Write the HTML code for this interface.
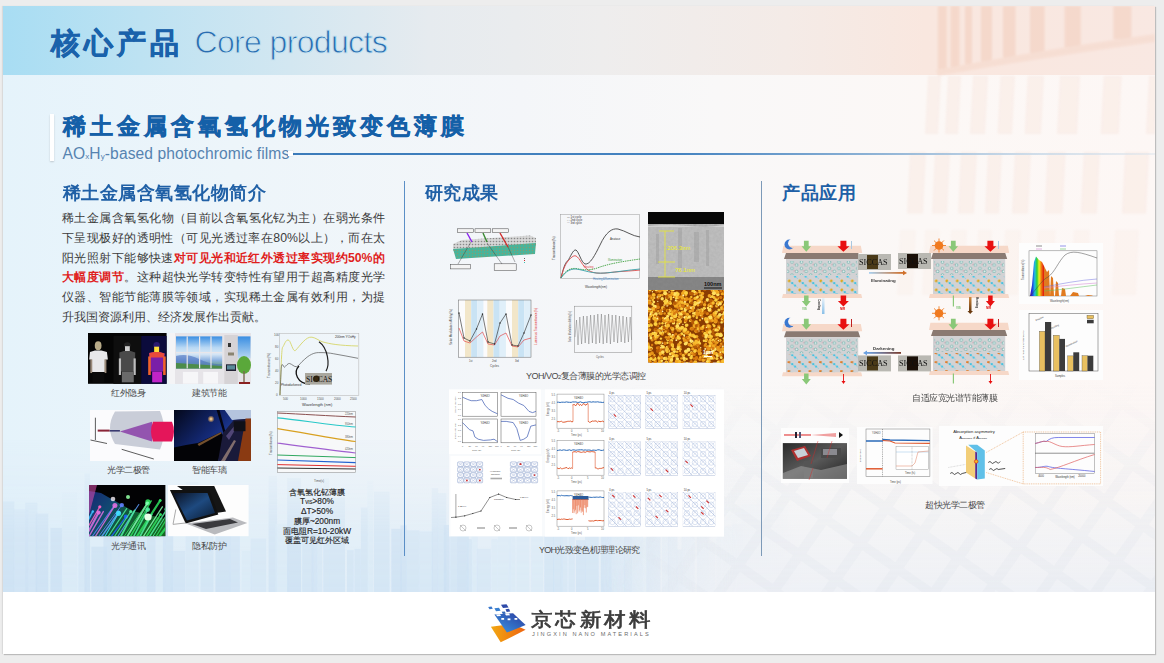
<!DOCTYPE html>
<html><head><meta charset="utf-8">
<style>
*{margin:0;padding:0;box-sizing:border-box}
html,body{width:1164px;height:663px;overflow:hidden;background:#ededed;font-family:"Liberation Sans",sans-serif}
.a{position:absolute}
#slide{left:3px;top:6px;width:1152px;height:648px;overflow:hidden;box-shadow:1px 1px 1px rgba(0,0,0,.2),-1px 0 1px rgba(0,0,0,.08)}
#hdr{left:0;top:0;width:1152px;height:69px;background:linear-gradient(90deg,#a8ddf3 0%,#bde2f2 12%,#d3e7f1 25%,#e6ebef 37%,#eeeded 52%,#f4ebe7 68%,#f9e7df 80%,#f9e8e2 100%)}
#content{left:0;top:69px;width:1152px;height:517px;background:linear-gradient(90deg,#e5f3fb 0%,#edf5fa 20%,#f4f6f9 45%,#f9f8f8 62%,#fcf8f6 80%,#fdf7f5 100%)}
#footer{left:0;top:586px;width:1152px;height:62px;background:#fff}
.t1{left:50.5px;top:23.7px;font-size:29px;font-weight:900;color:#1a62ab;-webkit-text-stroke:0.6px #1a62ab;letter-spacing:4px;white-space:nowrap}
.t1en{left:194.5px;top:24px;font-size:32px;color:#2a6cb0;white-space:nowrap;letter-spacing:-0.65px;-webkit-text-stroke:0.9px #c8e3f0}
.t2{left:63px;top:111px;font-size:23px;font-weight:900;color:#1560a8;-webkit-text-stroke:0.5px #1560a8;letter-spacing:4px;white-space:nowrap}
.t2en{left:62.5px;top:145px;font-size:15.6px;color:#5683b0;white-space:nowrap;letter-spacing:0.1px;-webkit-text-stroke:0}
.bar{left:50px;top:114px;width:4px;height:47px;background:#fff;box-shadow:0 1px 2px rgba(0,0,0,.18)}
.sq{left:288px;top:151px;width:5px;height:5px;background:#fff;box-shadow:0 0 1px rgba(0,0,0,.2)}
.line{left:292px;top:153px;width:863px;height:2px;background:linear-gradient(90deg,#3b7bba 0%,#4583c0 45%,#90b4d6 68%,#cddbe8 85%,rgba(220,228,236,.5) 100%)}
.h3{font-size:18px;font-weight:bold;color:#2060a6;white-space:nowrap}
.sep{width:1px;background:#5b8fc6}
.p{left:62px;top:209px;width:323px;font-size:12.3px;line-height:19.8px;color:#3c3c3c}
.p div{text-align:justify;text-align-last:justify;white-space:nowrap}
.red{color:#e01f1e;font-weight:bold}
.cap{font-size:8.5px;color:#4a4a4a;white-space:nowrap;letter-spacing:-0.5px}
.img{overflow:hidden}
</style></head><body>
<div id="slide" class="a">
  <div id="hdr" class="a"></div>
  <div id="content" class="a"></div>
  <div id="bgdeco"><svg class="a" style="left:0;top:0" width="1152" height="648" viewBox="3 6 1152 648">
<defs><filter id="bblur" x="-5%" y="-5%" width="110%" height="110%"><feGaussianBlur stdDeviation="1.3"/></filter></defs>
<g opacity=".36" filter="url(#bblur)">
<rect x="937.8" y="6" width="9" height="63.4" fill="#eebfa8"/>
<rect x="950.5" y="6" width="9" height="61.2" fill="#eebfa8"/>
<rect x="965" y="6" width="7" height="58.7" fill="#eebfa8"/>
<rect x="981" y="6" width="11" height="55.9" fill="#eebfa8"/>
<rect x="1003" y="6" width="12.6" height="52.1" fill="#eebfa8"/>
<rect x="1030" y="6" width="14.6" height="47.5" fill="#eebfa8"/>
<rect x="1064.5" y="6" width="16.3" height="41.6" fill="#eebfa8"/>
<rect x="1113.3" y="6" width="18.1" height="33.2" fill="#eebfa8"/>
<path d="M936 70 Q1040 50 1155 34 L1155 42 Q1040 58 938 76Z" fill="#f3cfbd"/>
</g>
<g opacity=".12" filter="url(#bblur)">
<path d="M928 76 L941 76 L938 134 L925 134Z" fill="#eab69c"/>
<path d="M948 76 L961 76 L958 134 L945 134Z" fill="#eab69c"/>
<path d="M973 76 L988 76 L985 134 L970 134Z" fill="#eab69c"/>
<path d="M1000.5 76 L1015.0 76 L1012.0 134 L997.5 134Z" fill="#eab69c"/>
<path d="M1027.7 76 L1044.0 76 L1041.0 134 L1024.7 134Z" fill="#eab69c"/>
<path d="M1060 76 L1080 76 L1077 134 L1057 134Z" fill="#eab69c"/>
<path d="M1103.7 76 L1121.7 76 L1118.7 134 L1100.7 134Z" fill="#eab69c"/>
<path d="M1149 76 L1158 76 L1155 134 L1146 134Z" fill="#eab69c"/>
<path d="M910 152 L926 152 L923 213.5 L907 213.5Z" fill="#eab69c"/>
<path d="M935 152 L950 152 L947 213.5 L932 213.5Z" fill="#eab69c"/>
<path d="M961 152 L977 152 L974 213.5 L958 213.5Z" fill="#eab69c"/>
<path d="M988 152 L1002 152 L999 213.5 L985 213.5Z" fill="#eab69c"/>
<path d="M1015 152 L1031 152 L1028 213.5 L1012 213.5Z" fill="#eab69c"/>
<path d="M1047.6 152 L1065.6 152 L1062.6 213.5 L1044.6 213.5Z" fill="#eab69c"/>
<path d="M1083.8 152 L1099.8 152 L1096.8 213.5 L1080.8 213.5Z" fill="#eab69c"/>
<path d="M1125 152 L1149 152 L1146 213.5 L1122 213.5Z" fill="#eab69c"/>
<path d="M900 230 L916 230 L913 295 L897 295Z" fill="#eab69c" opacity=".5"/>
<path d="M925 230 L940 230 L937 295 L922 295Z" fill="#eab69c" opacity=".5"/>
<path d="M951 230 L967 230 L964 295 L948 295Z" fill="#eab69c" opacity=".5"/>
<path d="M978 230 L992 230 L989 295 L975 295Z" fill="#eab69c" opacity=".5"/>
<path d="M1005 230 L1021 230 L1018 295 L1002 295Z" fill="#eab69c" opacity=".5"/>
<path d="M1037.6 230 L1055.6 230 L1052.6 295 L1034.6 295Z" fill="#eab69c" opacity=".5"/>
<path d="M1073.8 230 L1089.8 230 L1086.8 295 L1070.8 295Z" fill="#eab69c" opacity=".5"/>
<path d="M1115 230 L1139 230 L1136 295 L1112 295Z" fill="#eab69c" opacity=".5"/>
</g>
<defs><linearGradient id="skyfade" x1="0" y1="0" x2="0" y2="1"><stop offset="0" stop-color="#fff" stop-opacity="0"/><stop offset=".35" stop-color="#fff" stop-opacity=".25"/><stop offset=".7" stop-color="#fff" stop-opacity=".85"/><stop offset="1" stop-color="#fff" stop-opacity="1"/></linearGradient>
<linearGradient id="skyfadeX" x1="0" y1="0" x2="1" y2="0"><stop offset="0" stop-color="#fff" stop-opacity="1"/><stop offset=".75" stop-color="#fff" stop-opacity="1"/><stop offset="1" stop-color="#fff" stop-opacity="0"/></linearGradient>
<mask id="skymask"><rect x="3" y="400" width="800" height="192" fill="url(#skyfade)"/></mask>
<mask id="skymask2"><rect x="3" y="400" width="800" height="192" fill="url(#skyfadeX)"/></mask></defs>
<g mask="url(#skymask2)"><g mask="url(#skymask)">
<rect x="3" y="440" width="800" height="152" fill="#d6e7f6" opacity=".55"/>
<rect x="3.0" y="501.4" width="11.3" height="90.6" fill="#c9def2" opacity=".7"/>
<rect x="13.6" y="509.4" width="14.7" height="82.6" fill="#cde1f3" opacity=".7"/>
<rect x="25.2" y="502.6" width="12.2" height="89.4" fill="#cde1f3" opacity=".7"/>
<rect x="35.7" y="513.5" width="12.6" height="78.5" fill="#c9def2" opacity=".7"/>
<rect x="50.4" y="527.9" width="12.0" height="64.1" fill="#c9def2" opacity=".7"/>
<rect x="61.9" y="492.6" width="14.9" height="99.4" fill="#d8e9f7" opacity=".7"/>
<rect x="78.4" y="526.4" width="8.1" height="65.6" fill="#d3e5f5" opacity=".7"/>
<rect x="84.5" y="473.6" width="5.6" height="118.4" fill="#c9def2" opacity=".7"/>
<rect x="91.3" y="546.7" width="15.9" height="45.3" fill="#c9def2" opacity=".7"/>
<rect x="103.4" y="532.6" width="8.5" height="59.4" fill="#c9def2" opacity=".7"/>
<rect x="110.7" y="499.3" width="8.9" height="92.7" fill="#cde1f3" opacity=".7"/>
<rect x="118.7" y="543.2" width="7.0" height="48.8" fill="#cfe2f4" opacity=".7"/>
<rect x="124.9" y="497.4" width="11.9" height="94.6" fill="#cfe2f4" opacity=".7"/>
<rect x="133.6" y="487.3" width="6.0" height="104.7" fill="#cfe2f4" opacity=".7"/>
<rect x="138.0" y="535.8" width="8.0" height="56.2" fill="#d3e5f5" opacity=".7"/>
<rect x="146.4" y="504.2" width="9.3" height="87.8" fill="#c9def2" opacity=".7"/>
<rect x="155.6" y="483.1" width="10.0" height="108.9" fill="#d8e9f7" opacity=".7"/>
<rect x="162.9" y="521.7" width="10.3" height="70.3" fill="#c9def2" opacity=".7"/>
<rect x="170.7" y="550.8" width="14.6" height="41.2" fill="#cde1f3" opacity=".7"/>
<rect x="185.6" y="482.2" width="13.0" height="109.8" fill="#d3e5f5" opacity=".7"/>
<rect x="200.5" y="513.3" width="13.0" height="78.7" fill="#cfe2f4" opacity=".7"/>
<rect x="215.4" y="529.5" width="15.2" height="62.5" fill="#c9def2" opacity=".7"/>
<rect x="229.3" y="531.2" width="10.6" height="60.8" fill="#cde1f3" opacity=".7"/>
<rect x="241.8" y="550.4" width="10.3" height="41.6" fill="#d8e9f7" opacity=".7"/>
<rect x="250.6" y="538.6" width="15.5" height="53.4" fill="#d3e5f5" opacity=".7"/>
<rect x="268.6" y="475.8" width="8.5" height="116.2" fill="#cde1f3" opacity=".7"/>
<rect x="275.3" y="523.7" width="13.0" height="68.3" fill="#d8e9f7" opacity=".7"/>
<rect x="287.2" y="478.0" width="13.9" height="114.0" fill="#c9def2" opacity=".7"/>
<rect x="302.1" y="511.1" width="11.5" height="80.9" fill="#cfe2f4" opacity=".7"/>
<rect x="311.4" y="530.4" width="6.0" height="61.6" fill="#cde1f3" opacity=".7"/>
<rect x="315.9" y="483.0" width="6.3" height="109.0" fill="#d3e5f5" opacity=".7"/>
<rect x="323.3" y="477.9" width="5.8" height="114.1" fill="#cfe2f4" opacity=".7"/>
<rect x="329.0" y="497.6" width="16.0" height="94.4" fill="#cfe2f4" opacity=".7"/>
<rect x="347.0" y="550.1" width="6.7" height="41.9" fill="#cfe2f4" opacity=".7"/>
<rect x="354.4" y="548.8" width="6.5" height="43.2" fill="#cfe2f4" opacity=".7"/>
<rect x="360.9" y="507.5" width="7.3" height="84.5" fill="#cfe2f4" opacity=".7"/>
<rect x="367.3" y="480.6" width="6.0" height="111.4" fill="#d8e9f7" opacity=".7"/>
<rect x="374.0" y="491.6" width="15.6" height="100.4" fill="#cfe2f4" opacity=".7"/>
<rect x="391.3" y="528.8" width="10.5" height="63.2" fill="#c9def2" opacity=".7"/>
<rect x="400.3" y="525.4" width="6.4" height="66.6" fill="#c9def2" opacity=".7"/>
<rect x="406.1" y="530.3" width="13.3" height="61.7" fill="#cfe2f4" opacity=".7"/>
<rect x="418.8" y="531.3" width="14.2" height="60.7" fill="#d3e5f5" opacity=".7"/>
<rect x="431.7" y="488.0" width="6.4" height="104.0" fill="#cde1f3" opacity=".7"/>
<rect x="437.7" y="493.0" width="8.6" height="99.0" fill="#cfe2f4" opacity=".7"/>
<rect x="443.8" y="525.0" width="5.9" height="67.0" fill="#c9def2" opacity=".7"/>
<rect x="450.1" y="502.9" width="7.6" height="89.1" fill="#cfe2f4" opacity=".7"/>
<rect x="457.3" y="506.2" width="11.6" height="85.8" fill="#c9def2" opacity=".7"/>
<rect x="466.7" y="539.2" width="5.5" height="52.8" fill="#cfe2f4" opacity=".7"/>
<rect x="471.5" y="474.3" width="6.3" height="117.7" fill="#d8e9f7" opacity=".7"/>
<rect x="476.9" y="548.7" width="13.9" height="43.3" fill="#d3e5f5" opacity=".7"/>
<rect x="491.3" y="539.2" width="6.4" height="52.8" fill="#d8e9f7" opacity=".7"/>
<rect x="497.8" y="484.3" width="13.3" height="107.7" fill="#d8e9f7" opacity=".7"/>
<rect x="508.4" y="481.3" width="7.2" height="110.7" fill="#d8e9f7" opacity=".7"/>
<rect x="516.5" y="529.5" width="12.8" height="62.5" fill="#d8e9f7" opacity=".7"/>
<rect x="531.2" y="533.2" width="11.9" height="58.8" fill="#d8e9f7" opacity=".7"/>
<rect x="544.3" y="520.0" width="9.9" height="72.0" fill="#cfe2f4" opacity=".7"/>
<rect x="553.1" y="529.6" width="9.8" height="62.4" fill="#cfe2f4" opacity=".7"/>
<rect x="560.5" y="525.6" width="7.1" height="66.4" fill="#d3e5f5" opacity=".7"/>
<rect x="568.4" y="533.1" width="6.4" height="58.9" fill="#d3e5f5" opacity=".7"/>
<rect x="575.9" y="540.2" width="9.6" height="51.8" fill="#cde1f3" opacity=".7"/>
<rect x="585.0" y="520.2" width="13.7" height="71.8" fill="#cfe2f4" opacity=".7"/>
<rect x="600.8" y="521.4" width="10.8" height="70.6" fill="#cde1f3" opacity=".7"/>
<rect x="608.9" y="516.7" width="15.6" height="75.3" fill="#d3e5f5" opacity=".7"/>
<rect x="623.8" y="508.8" width="8.4" height="83.2" fill="#cde1f3" opacity=".7"/>
<rect x="631.5" y="478.4" width="11.6" height="113.6" fill="#d3e5f5" opacity=".7"/>
<rect x="642.0" y="538.5" width="5.2" height="53.5" fill="#d8e9f7" opacity=".7"/>
<rect x="646.4" y="477.7" width="14.1" height="114.3" fill="#c9def2" opacity=".7"/>
<rect x="661.9" y="516.0" width="7.1" height="76.0" fill="#d3e5f5" opacity=".7"/>
<rect x="667.8" y="511.9" width="9.8" height="80.1" fill="#c9def2" opacity=".7"/>
<rect x="676.4" y="549.5" width="6.3" height="42.5" fill="#c9def2" opacity=".7"/>
<rect x="681.6" y="501.8" width="13.0" height="90.2" fill="#cde1f3" opacity=".7"/>
<rect x="697.0" y="486.2" width="11.5" height="105.8" fill="#c9def2" opacity=".7"/>
<rect x="707.0" y="542.8" width="8.2" height="49.2" fill="#cde1f3" opacity=".7"/>
<rect x="716.4" y="494.7" width="5.3" height="97.3" fill="#cfe2f4" opacity=".7"/>
<rect x="722.4" y="526.4" width="10.7" height="65.6" fill="#cfe2f4" opacity=".7"/>
<rect x="732.2" y="523.5" width="10.6" height="68.5" fill="#c9def2" opacity=".7"/>
<rect x="741.5" y="504.3" width="15.6" height="87.7" fill="#cde1f3" opacity=".7"/>
<rect x="756.7" y="498.4" width="13.1" height="93.6" fill="#c9def2" opacity=".7"/>
<rect x="768.8" y="526.0" width="8.3" height="66.0" fill="#cde1f3" opacity=".7"/>
<rect x="776.0" y="475.1" width="7.0" height="116.9" fill="#c9def2" opacity=".7"/>
<rect x="781.4" y="487.2" width="6.9" height="104.8" fill="#c9def2" opacity=".7"/>
<rect x="787.5" y="529.0" width="13.3" height="63.0" fill="#cde1f3" opacity=".7"/>
<rect x="796.7" y="476.3" width="6.7" height="115.7" fill="#d8e9f7" opacity=".7"/>
</g></g>
<defs><pattern id="diag" width="44" height="44" patternUnits="userSpaceOnUse" patternTransform="rotate(35)"><rect width="44" height="44" fill="none"/><rect x="0" y="0" width="10" height="44" fill="#dde2ea"/></pattern>
<pattern id="diag2" width="44" height="44" patternUnits="userSpaceOnUse" patternTransform="rotate(-55)"><rect x="0" y="0" width="9" height="44" fill="#dde2ea"/></pattern>
<linearGradient id="dfade" x1="0" y1="0" x2="0" y2="1"><stop offset="0" stop-color="#fff" stop-opacity="0"/><stop offset=".5" stop-color="#fff" stop-opacity=".7"/><stop offset="1" stop-color="#fff" stop-opacity="1"/></linearGradient>
<linearGradient id="dfadeX" x1="0" y1="0" x2="1" y2="0"><stop offset="0" stop-color="#fff" stop-opacity="0"/><stop offset=".25" stop-color="#fff" stop-opacity="1"/><stop offset="1" stop-color="#fff" stop-opacity="1"/></linearGradient>
<mask id="dmask"><rect x="600" y="380" width="555" height="212" fill="url(#dfade)"/></mask><mask id="dmaskX"><rect x="600" y="380" width="555" height="212" fill="url(#dfadeX)"/></mask></defs>
<defs><linearGradient id="btint" x1="0" y1="0" x2="0" y2="1"><stop offset="0" stop-color="#eef1f5" stop-opacity="0"/><stop offset=".55" stop-color="#eef1f5" stop-opacity=".35"/><stop offset="1" stop-color="#edf0f5" stop-opacity=".95"/></linearGradient></defs><g mask="url(#dmaskX)"><rect x="600" y="380" width="555" height="212" fill="url(#btint)"/></g><g mask="url(#dmaskX)"><g mask="url(#dmask)" opacity=".24"><rect x="600" y="380" width="555" height="212" fill="url(#diag)"/><rect x="600" y="380" width="555" height="212" fill="url(#diag2)"/></g></g>
</svg></div>
  <div id="footer" class="a"></div>
</div>

<div class="a t1">核心产品</div>
<div class="a t1en">Core products</div>
<div class="a bar"></div>
<div class="a t2">稀土金属含氧氢化物光致变色薄膜</div>
<div class="a t2en">AO<span style="font-size:8px;-webkit-text-stroke:0">x</span>H<span style="font-size:8px;-webkit-text-stroke:0">y</span>-based photochromic films</div>
<div class="a line"></div>
<div class="a sq"></div>

<div class="a h3" style="left:62.5px;top:180.5px;letter-spacing:0.5px">稀土金属含氧氢化物简介</div>
<div class="a sep" style="left:404px;top:181px;height:375px"></div>
<div class="a h3" style="left:424.5px;top:181px;letter-spacing:0.6px">研究成果</div>
<div class="a sep" style="left:761px;top:181px;height:375px;background:#7d9ab8"></div>
<div class="a h3" style="left:782px;top:181px;letter-spacing:0.6px">产品应用</div>

<div class="a p">
  <div>稀土金属含氧氢化物（目前以含氧氢化钇为主）在弱光条件</div>
  <div>下呈现极好的透明性（可见光透过率在80%以上），而在太</div>
  <div>阳光照射下能够快速<span class="red">对可见光和近红外透过率实现约50%的</span></div>
  <div><span class="red">大幅度调节</span>。这种超快光学转变特性有望用于超高精度光学</div>
  <div>仪器、智能节能薄膜等领域，实现稀土金属有效利用，为提</div>
  <div style="text-align-last:left">升我国资源利用、经济发展作出贡献。</div>
</div>

<!-- IR stealth -->
<svg class="a" style="left:88.2px;top:332.8px" width="78.6" height="50.8" viewBox="0 0 79 52" preserveAspectRatio="none">
<rect width="79" height="52" fill="#050505"/>
<rect x="25.5" y="3" width="28" height="49" fill="#0e0e0e"/>
<rect x="53.5" y="3" width="25.5" height="49" fill="#0b0b3c"/>
<!-- p1 -->
<ellipse cx="10.2" cy="13" rx="3.4" ry="4.6" fill="#b8ab88"/>
<path d="M2 19.5 L7 18 L13.5 18 L19 19.5 L20 27 L17.5 27.5 L17 40 L4 40 L3.5 27.5 L1.2 27 Z" fill="#e8e8ea"/>
<rect x="2.3" y="27" width="2" height="14" fill="#9a8a7a"/>
<rect x="16.5" y="27" width="2" height="14" fill="#9a8a7a"/>
<rect x="4.5" y="40" width="12" height="11" fill="#0a0a0a"/>
<!-- p2 -->
<ellipse cx="39.5" cy="12.5" rx="3.3" ry="3" fill="#222"/>
<rect x="37.2" y="13.5" width="4.8" height="6" fill="#cfcfcf"/>
<path d="M31.5 20 L36 18.5 L43 18.5 L47.5 20 L47 39.5 L32 39.5 Z" fill="#4a4a4a"/>
<rect x="31" y="26" width="2.2" height="17" fill="#bdbdbd"/>
<rect x="45.8" y="26" width="2.2" height="17" fill="#bdbdbd"/>
<rect x="34" y="39.5" width="12" height="11" fill="#6a6a6a"/>
<!-- p3 -->
<ellipse cx="69" cy="12.5" rx="3.2" ry="3.2" fill="#2a1a70"/>
<rect x="66.5" y="14" width="5" height="6.5" fill="#ffe03a"/>
<path d="M61.5 20.5 L66 19.5 L72 19.5 L77 21 L77 39.5 L62 39.5 Z" fill="#7a1fa8"/>
<path d="M61.5 20.5 L66 19.5 L72 19.5 L77 21 L76 25 L62 25 Z" fill="#e84a3a"/>
<rect x="60.5" y="24" width="2.6" height="19" fill="#f0622a"/>
<rect x="75.5" y="24" width="2.6" height="19" fill="#f0622a"/>
<rect x="64.5" y="39.5" width="10" height="11" fill="#c024c8"/>
</svg>
<!-- building -->
<svg class="a" style="left:169px;top:332.5px" width="82" height="51" viewBox="0 0 82 51">
<defs>
<linearGradient id="sky1" x1="0" y1="0" x2="0" y2="1"><stop offset="0" stop-color="#3a8ee2"/><stop offset=".35" stop-color="#b8d8f4"/><stop offset=".55" stop-color="#d8e8f6"/><stop offset=".75" stop-color="#8ab0e0"/><stop offset="1" stop-color="#5a9a60"/></linearGradient>
<linearGradient id="sky2" x1="0" y1="0" x2="0" y2="1"><stop offset="0" stop-color="#3a8ee2"/><stop offset="1" stop-color="#b8d8f2"/></linearGradient>
</defs>
<rect width="82" height="51" fill="#e6e4e8"/>
<path d="M0 0 L6 0 L6 51 L0 51Z" fill="#f4f4f6"/>
<rect x="7" y="3.4" width="46.2" height="32" fill="url(#sky1)"/>
<path d="M7 23 Q18 20 30 26 T53 31 L53 35.4 L7 35.4Z" fill="#4a70c0" opacity=".6"/>
<path d="M7 30 L53 33 L53 35.4 L7 35.4Z" fill="#4c8c4a"/>
<g fill="#e8e6ea"><rect x="17.6" y="3.4" width="1.2" height="32"/><rect x="30" y="3.4" width="1.2" height="32"/><rect x="41.4" y="3.4" width="1.2" height="32"/><rect x="7" y="19" width="46.2" height="1.2"/></g>
<rect x="55.3" y="2" width="13.5" height="49" fill="#d6d3d6"/>
<rect x="59" y="10" width="3" height="4" fill="#333"/>
<rect x="59" y="19.5" width="6" height="3" fill="#8a8470"/>
<rect x="57" y="31.3" width="10" height="6.7" fill="#223"/>
<rect x="58" y="32.3" width="8" height="4.2" fill="#5a8a9a"/>
<rect x="68.8" y="3.4" width="12.7" height="22" fill="url(#sky2)"/>
<ellipse cx="75" cy="32" rx="7" ry="9" fill="#5aa83a"/>
<rect x="74.3" y="38" width="1.4" height="11" fill="#7a6a50"/>
<rect x="70" y="49" width="11" height="2" fill="#8a2020"/>
<rect x="13.9" y="38.9" width="15.2" height="11.8" fill="#f6f6f8"/>
<rect x="34.2" y="38.9" width="14.8" height="11.8" fill="#f6f6f8"/>
</svg>
<!-- optical diode -->
<svg class="a" style="left:89.6px;top:410px" width="84" height="51" viewBox="0 0 84 51">
<rect width="84" height="51" fill="#fbfbfd"/>
<path d="M25 1.5 L70 1 Q78 20 70 39.5 L25 34 Q15 18 25 1.5Z" fill="#c9cdd8"/>
<path d="M29.9 21.5 L62 11.7 L62 31.6 Z" fill="#8a3ea8" opacity=".85"/>
<path d="M63 11.7 L82 11.7 Q86 21.5 82 31.6 L63 31.6 Q59 21.5 63 11.7Z" fill="#e4165a"/>
<rect x="7.7" y="19.6" width="12" height="2" fill="#8a2538"/>
<rect x="19.7" y="20" width="10.2" height="1.6" fill="#3a3a70"/>
<g stroke="#333" stroke-width=".8" fill="none"><path d="M5.4 7.7 L5.4 30"/><path d="M0.5 30 L17 33.5"/><path d="M31.7 39.3 L63.8 49"/></g>
</svg>
<!-- smart car window -->
<svg class="a" style="left:173.6px;top:410px" width="77.4" height="51" viewBox="0 0 77.4 51">
<defs>
<linearGradient id="cs" x1="0" y1="0" x2="1" y2=".6"><stop offset="0" stop-color="#04081a"/><stop offset=".55" stop-color="#142a78"/><stop offset="1" stop-color="#2d55c0"/></linearGradient>
<radialGradient id="lamp"><stop offset="0" stop-color="#fff4c8"/><stop offset=".35" stop-color="#f2b868" stop-opacity=".85"/><stop offset="1" stop-color="#f0b060" stop-opacity="0"/></radialGradient>
</defs>
<rect width="77.4" height="51" fill="url(#cs)"/>
<path d="M50.7 0 L77.4 0 L77.4 8.6 L58 10 Z" fill="#b4c4de"/>
<path d="M71.5 8.6 L77.4 8.6 L77.4 51 L62 51 Z" fill="#8a3a12"/>
<path d="M0 37.5 L12 35 L24 33 L47 22 L52 30 L44 51 L0 51Z" fill="#030306"/>
<path d="M23.5 34 L47 22 L47.5 23.5 L25 36Z" fill="#d09050" opacity=".55"/>
<path d="M42.6 0 L45.5 0 L51.5 22 L49.5 23Z" fill="#050510"/>
<path d="M49 23 L59.7 10 L71.5 9 L64 51 L44 51Z" fill="#1a1a3a"/>
<path d="M52 26 L62 14 L64 15 L55 30Z" fill="#6a5a90" opacity=".7"/>
<path d="M47 51 L60 30 L62 31 L51 51Z" fill="#e8c0a0" opacity=".5"/>
<circle cx="37" cy="9" r="3.6" fill="url(#lamp)"/>
<rect x="59.7" y="11.3" width="11.8" height="9.9" fill="#101018"/>
</svg>
<!-- fiber optics -->
<svg class="a" style="left:89.2px;top:485.4px" width="76.4" height="51.2" viewBox="0 0 76.4 51.2">
<defs><linearGradient id="fb" x1="0" y1="0" x2="1" y2="0.5"><stop offset="0" stop-color="#2a48e0"/><stop offset=".35" stop-color="#2090e0"/><stop offset=".6" stop-color="#20b070"/><stop offset="1" stop-color="#28c840"/></linearGradient>
<clipPath id="fclip"><rect width="76.4" height="51.2"/></clipPath></defs>
<rect width="76.4" height="51.2" fill="#020204"/>
<g clip-path="url(#fclip)">
<path d="M0 6 L12 8 L26 16 L44 26 L60 30 L76.4 34 L76.4 51.2 L0 51.2Z" fill="url(#fb)" opacity=".5"/>
<path d="M-10.0 52.0 L3.8 26.5" stroke="#40c0ff" stroke-width="1.6" stroke-linecap="round" opacity=".85"/>
<circle cx="3.8" cy="26.5" r="1.2" fill="#40c0ff" opacity=".9"/>
<path d="M-6.8 52.0 L10.8 21.8" stroke="#ff60c0" stroke-width="1.3" stroke-linecap="round" opacity=".85"/>
<circle cx="10.8" cy="21.8" r="1.6" fill="#ff60c0" opacity=".9"/>
<path d="M-3.6 52.0 L9.6 27.6" stroke="#e070e0" stroke-width="2.1" stroke-linecap="round" opacity=".85"/>
<circle cx="9.6" cy="27.6" r="2.1" fill="#e070e0" opacity=".9"/>
<path d="M-0.4 52.0 L14.3 26.6" stroke="#e070e0" stroke-width="1.4" stroke-linecap="round" opacity=".85"/>
<path d="M2.8 52.0 L25.0 21.0" stroke="#6080ff" stroke-width="1.1" stroke-linecap="round" opacity=".85"/>
<path d="M6.0 52.0 L25.9 20.5" stroke="#e070e0" stroke-width="1.3" stroke-linecap="round" opacity=".85"/>
<circle cx="25.9" cy="20.5" r="2.5" fill="#e070e0" opacity=".9"/>
<path d="M9.2 52.0 L32.8 20.1" stroke="#6080ff" stroke-width="1.0" stroke-linecap="round" opacity=".85"/>
<circle cx="32.8" cy="20.1" r="2.2" fill="#6080ff" opacity=".9"/>
<path d="M12.4 52.0 L29.6 27.3" stroke="#60a0ff" stroke-width="1.5" stroke-linecap="round" opacity=".85"/>
<circle cx="29.6" cy="27.3" r="1.8" fill="#60a0ff" opacity=".9"/>
<path d="M15.6 52.0 L29.5 28.3" stroke="#40e0ff" stroke-width="1.1" stroke-linecap="round" opacity=".85"/>
<circle cx="29.5" cy="28.3" r="2.6" fill="#40e0ff" opacity=".9"/>
<path d="M18.8 52.0 L37.7 23.6" stroke="#50f0a0" stroke-width="1.2" stroke-linecap="round" opacity=".85"/>
<path d="M22.0 52.0 L37.0 31.6" stroke="#2060ff" stroke-width="1.3" stroke-linecap="round" opacity=".85"/>
<circle cx="37.0" cy="31.6" r="2.2" fill="#2060ff" opacity=".9"/>
<path d="M25.2 52.0 L41.7 26.5" stroke="#50f0a0" stroke-width="1.1" stroke-linecap="round" opacity=".85"/>
<circle cx="41.7" cy="26.5" r="1.5" fill="#50f0a0" opacity=".9"/>
<path d="M28.4 52.0 L49.8 19.5" stroke="#60a0ff" stroke-width="1.1" stroke-linecap="round" opacity=".85"/>
<path d="M31.6 52.0 L45.6 25.4" stroke="#50f0a0" stroke-width="1.8" stroke-linecap="round" opacity=".85"/>
<path d="M34.8 52.0 L58.9 16.9" stroke="#30e060" stroke-width="1.0" stroke-linecap="round" opacity=".85"/>
<circle cx="58.9" cy="16.9" r="2.6" fill="#30e060" opacity=".9"/>
<path d="M38.0 52.0 L58.4 18.5" stroke="#80ffb0" stroke-width="1.8" stroke-linecap="round" opacity=".85"/>
<circle cx="58.4" cy="18.5" r="2.1" fill="#80ffb0" opacity=".9"/>
<path d="M41.2 52.0 L62.2 16.0" stroke="#30e060" stroke-width="1.5" stroke-linecap="round" opacity=".85"/>
<path d="M44.4 52.0 L58.7 24.6" stroke="#50f0a0" stroke-width="1.5" stroke-linecap="round" opacity=".85"/>
<circle cx="58.7" cy="24.6" r="2.3" fill="#50f0a0" opacity=".9"/>
<path d="M47.6 52.0 L71.2 15.5" stroke="#30e060" stroke-width="2.2" stroke-linecap="round" opacity=".85"/>
<circle cx="71.2" cy="15.5" r="1.5" fill="#30e060" opacity=".9"/>
<path d="M50.8 52.0 L62.8 29.4" stroke="#50f0a0" stroke-width="1.7" stroke-linecap="round" opacity=".85"/>
<path d="M54.0 52.0 L73.4 21.8" stroke="#80ffb0" stroke-width="1.3" stroke-linecap="round" opacity=".85"/>
<path d="M57.2 52.0 L71.5 29.6" stroke="#30e060" stroke-width="1.8" stroke-linecap="round" opacity=".85"/>
<circle cx="71.5" cy="29.6" r="1.5" fill="#30e060" opacity=".9"/>
<path d="M60.4 52.0 L77.8 24.3" stroke="#50f0a0" stroke-width="1.5" stroke-linecap="round" opacity=".85"/>
<circle cx="77.8" cy="24.3" r="2.4" fill="#50f0a0" opacity=".9"/>
<path d="M63.6 52.0 L85.1 17.9" stroke="#50f0a0" stroke-width="1.0" stroke-linecap="round" opacity=".85"/>
<circle cx="85.1" cy="17.9" r="1.9" fill="#50f0a0" opacity=".9"/>
<path d="M66.8 52.0 L87.2 18.5" stroke="#30e060" stroke-width="1.2" stroke-linecap="round" opacity=".85"/>
<circle cx="87.2" cy="18.5" r="2.5" fill="#30e060" opacity=".9"/>
<path d="M70.0 52.0 L91.0 24.1" stroke="#30e060" stroke-width="2.2" stroke-linecap="round" opacity=".85"/>
<circle cx="59" cy="32" r="3.6" fill="#e8ffe8"/><circle cx="39" cy="12" r="2" fill="#80e090"/><circle cx="24" cy="14" r="2.3" fill="#f8f0f8" opacity=".8"/><path d="M0 0 L8 0 L0 30Z" fill="#e050b0" opacity=".55"/>
</g></svg>
<!-- laptop -->
<svg class="a" style="left:168px;top:485.4px" width="80.6" height="51.2" viewBox="0 0 80.6 51.2">
<defs><linearGradient id="scr" x1="0" y1="0" x2="1" y2="1"><stop offset="0" stop-color="#0a1020"/><stop offset=".5" stop-color="#1e4a80"/><stop offset="1" stop-color="#0a1a30"/></linearGradient></defs>
<rect width="80.6" height="51.2" fill="#fdfdfd"/>
<path d="M9 1 L46.2 1 L58 26.5 L48 28 Z" fill="#151515"/>
<path d="M1.9 5 L41.2 5 L50.3 29.4 L17.7 38.5 Z" fill="#111"/>
<path d="M5 8 L39.5 8 L47 28 L19 35.5 Z" fill="url(#scr)"/>
<path d="M17.7 38.5 L64.8 32.6 L79.3 38 L46.7 49.4 Z" fill="#b9babe"/>
<path d="M24 39 L62 34 L70 37.5 L38 44 Z" fill="#3a3a3e"/>
<path d="M7.8 24.5 L5 39.4 L17.5 38" stroke="#aaa" stroke-width="1" fill="none"/>
</svg>
<!-- chart1 transmittance -->
<svg class="a" style="left:262px;top:325px" width="100" height="85" viewBox="262 325 100 85">
<rect x="279.3" y="333.3" width="79.5" height="62" fill="none" stroke="#bbb" stroke-width=".6"/>
<g font-size="3" fill="#555" font-family="Liberation Sans">
<text x="276" y="396">0</text><text x="275" y="384">20</text><text x="275" y="372">40</text><text x="275" y="360">60</text><text x="275" y="348">80</text><text x="274" y="336">100</text>
<text x="283" y="400">500</text><text x="300" y="400">1000</text><text x="317" y="400">1500</text><text x="334" y="400">2000</text><text x="350" y="400">2500</text>
<text x="302" y="406" font-size="4" fill="#333">Wavelength (nm)</text>
<text x="335" y="338" font-size="3.2" fill="#333">200nm YOxHy</text>
<text x="281" y="386" font-size="3" fill="#333">Photodarkened</text>
<text transform="translate(270,378) rotate(-90)" font-size="3.2" fill="#444">Transmittance(%)</text>
</g>
<path d="M280 395 C281 370 281.5 350 282.5 347.4 C284 346 286 338 289 340.4 C291 342 293 352 295.3 350.6 C300 346 306 336 312 337.2 C316 338 318 340 322 341.7 C330 344 339 345.5 358 346" fill="none" stroke="#d6d66a" stroke-width=".9"/>
<path d="M280 395 C281 375 281 366 281.9 364.7 C283 364 284 367.5 284.4 367.3 C286 366 288 363 289.6 363.5 C292 364 294 367 296.6 366.7 C299 366 301 362 304.3 359.6 C309 355 314 352.6 318.4 352.6 C325 352.5 330 353 333.8 353.8 C342 355 350 357 358 358.3" fill="none" stroke="#555" stroke-width=".7"/>
<path d="M299 366 C293 372 297 384 310 384" fill="none" stroke="#111" stroke-width="1.3"/>
<path d="M319 341.7 C328 348 330 365 326 371.2" fill="none" stroke="#222" stroke-width="1.2"/>
<rect x="305" y="373" width="27" height="11.6" fill="#a9a79e"/>
<circle cx="316.5" cy="378.8" r="3.2" fill="#3a2a10"/>
<text x="306" y="381.8" font-size="7.5" font-family="Liberation Serif" fill="#111">SICCAS</text>
</svg>
<!-- chart2 time -->
<svg class="a" style="left:262px;top:405px" width="100" height="80" viewBox="262 405 100 80">
<rect x="277.4" y="411.4" width="78.2" height="61" fill="#f7f8f9" stroke="#999" stroke-width=".6"/>
<g fill="none" stroke-width="1">
<path d="M277.4 413 C300 414 330 416 355.6 417" stroke="#8a5050"/>
<path d="M277.4 417.8 C300 420 330 425 355.6 427" stroke="#28c8c8" stroke-width="1.2"/>
<path d="M277.4 428.7 C300 432 330 438 355.6 441.5" stroke="#d8a020" stroke-width="1.2"/>
<path d="M277.4 443 C300 446 330 450 355.6 453" stroke="#a060d0" stroke-width="1.1"/>
<path d="M277.4 455 L355.6 457.6" stroke="#30a860"/>
<path d="M277.4 460 L355.6 462.7" stroke="#2060d0" stroke-width="1.2"/>
<path d="M277.4 464.6 L355.6 466.3" stroke="#e03030"/>
<path d="M277.4 468 L355.6 469" stroke="#333"/>
</g>
<g font-size="2.6" fill="#555" font-family="Liberation Sans">
<text x="345" y="415">220nm</text><text x="345" y="425">950nm</text><text x="345" y="438">380nm</text><text x="345" y="450">420nm</text>
<text x="314" y="482" font-size="3">Time(s)</text>
<text transform="translate(272,455) rotate(-90)" font-size="3">Transmittance(%)</text>
</g>
</svg>
<!-- captions col1 -->
<div class="a cap" style="left:111px;top:387.5px">红外隐身</div>
<div class="a cap" style="left:192px;top:387.5px">建筑节能</div>
<div class="a cap" style="left:107px;top:464.5px">光学二极管</div>
<div class="a cap" style="left:192px;top:464.5px">智能车璃</div>
<div class="a cap" style="left:111px;top:540.5px">光学通讯</div>
<div class="a cap" style="left:192px;top:540.5px">隐私防护</div>
<div class="a" style="left:266px;top:487.5px;width:102px;font-size:8.3px;line-height:9.8px;color:#262626;-webkit-text-stroke:0.15px #262626;text-align:center;white-space:nowrap">含氧氢化钇薄膜<br>T<span style="font-size:4.5px;line-height:0">VIS</span>&gt;80%<br>ΔT&gt;50%<br>膜厚~200nm<br>面电阻R=10-20kW<br>覆盖可见红外区域</div>
<!-- crystal -->
<svg class="a" style="left:445px;top:205px" width="100" height="75" viewBox="445 205 100 75">
<defs>
<pattern id="atoms" width="3" height="3" patternUnits="userSpaceOnUse"><rect width="3" height="3" fill="#d6d6d6"/><circle cx="1.5" cy="1.5" r=".8" fill="#8a8a8a"/></pattern>
<pattern id="atoms2" width="3" height="3" patternUnits="userSpaceOnUse"><rect width="3" height="3" fill="#48b49a"/><circle cx="1.5" cy="1.5" r=".7" fill="#8a9a70"/></pattern>
</defs>
<path d="M453 244 L462 240 L530 235.5 L536 238 L536 246 L453 251Z" fill="url(#atoms)"/>
<path d="M453 249 L536 243 L535 254 L456 259Z" fill="url(#atoms2)"/>
<g fill="#f4f4f4" stroke="#444" stroke-width=".5">
<rect x="457.4" y="228.8" width="15.9" height="3.9"/><rect x="475" y="228.8" width="15.8" height="3.9"/><rect x="492.3" y="228.8" width="16.3" height="3.9"/>
<rect x="450.7" y="264.4" width="19.8" height="4.5"/><rect x="494.2" y="263.8" width="22" height="6.8"/>
</g>
<g stroke-width="1.4"><path d="M467 233 L472 242" stroke="#8a20f0"/><path d="M483 233 L487 242" stroke="#3a8a30"/><path d="M500 233 L508 247" stroke="#d02a2a"/></g>
<g stroke="#333" stroke-width=".4"><path d="M471 242 L458 264"/><path d="M487 243 L502 264"/><path d="M508 247 L515 262"/></g>
<g fill="#666"><rect x="524" y="258" width="1" height="1"/><rect x="524" y="260" width="1" height="1" fill="#d02a2a"/><rect x="524" y="262" width="1" height="1" fill="#3ac0b0"/></g>
</svg>
<!-- chart transmittance col2 -->
<svg class="a" style="left:551px;top:212px" width="90" height="77" viewBox="551 212 90 77">

<rect x="560.4" y="214.5" width="79.2" height="64" fill="none" stroke="#999" stroke-width=".5"/>
<path d="M561 278 C564 265 566 262 568 260.5 C570 258 573 249 576 250 C579 252 581 262 585 264 C590 265 595 255 600 245 C606 232 612 228 618 229 C626 231 632 236 640 237" fill="none" stroke="#444" stroke-width=".9"/>
<path d="M561 278 C564 266 566 264 568 261 C571 258 573 255 576 256 C580 258 582 266 588 270 C595 275 605 273 615 272 C625 271 632 271 640 270" fill="none" stroke="#e04848" stroke-width=".9"/>
<path d="M561 278 C566 270 570 268 576 268.5 C584 270 590 271 600 267 C612 263 626 261 640 259" fill="none" stroke="#40a040" stroke-width=".9" stroke-dasharray="1.5 .8"/>
<path d="M561 278 C566 271 570 269 576 269 C584 270 592 274 605 273 C618 272 628 270 640 269" fill="none" stroke="#3aa0a8" stroke-width=".9"/>
<g font-size="2.8" font-family="Liberation Sans"><text x="610" y="240" fill="#333">Anatase</text><text x="608" y="261" fill="#3a9a3a">Illumination</text><text x="593" y="280" fill="#3a80c0">Heating&amp;Illumination</text><text x="584" y="268" fill="#e04848">Heating</text>
<text x="585" y="288" fill="#333" font-size="3">Wavelength(nm)</text>
<text x="567" y="218" fill="#333">— 1st cycle</text><text x="567" y="221" fill="#333">- - 2nd cycle</text><text x="567" y="224" fill="#333">··· 3rd cycle</text></g>
<text transform="translate(555,260) rotate(-90)" font-size="3" fill="#333" font-family="Liberation Sans">Transmittance(%)</text>
</svg>
<!-- SEM -->
<svg class="a" style="left:648px;top:212px" width="76" height="78" viewBox="0 0 76 78">
<defs>
<filter id="noise1"><feTurbulence type="fractalNoise" baseFrequency=".35" numOctaves="2" seed="3"/><feColorMatrix type="matrix" values="0 0 0 0 .55  0 0 0 0 .55  0 0 0 0 .55  0 0 0 .9 0"/></filter>
</defs>
<rect width="76" height="78" fill="#9a9a9a"/>
<rect width="76" height="78" filter="url(#noise1)" opacity=".9"/>
<rect x="0" y="15" width="76" height="50" fill="#c4c4c4" opacity=".6"/><g fill="#8a8a8a" opacity=".28"><rect x="30" y="16" width="4" height="40"/><rect x="46" y="20" width="5" height="30"/><rect x="58" y="18" width="3" height="36"/><rect x="8" y="22" width="3" height="30"/></g>
<rect width="76" height="12" fill="#070707"/>
<path d="M0 14 Q20 12 40 14 T76 13 L76 15 L0 15Z" fill="#cfcfcf"/>
<rect x="0" y="65" width="76" height="13" fill="#7a7a7a" opacity=".8"/>
<g stroke="#e8e830" stroke-width=".8"><path d="M11 19 L26 19"/><path d="M17 19 L17 50"/><path d="M10 50 L27 50"/><path d="M17 50 L17 65"/><path d="M10 65 L27 65"/></g>
<g fill="#f0f020" font-size="6" font-family="Liberation Sans"><text x="19" y="38">206.3nm</text><text x="27" y="60">76.1nm</text></g>
<text x="56" y="74" font-size="5.5" font-weight="bold" fill="#111" font-family="Liberation Sans">100nm</text>
<rect x="56" y="75.5" width="18" height="1" fill="#111"/>
</svg>
<!-- AFM -->
<svg class="a" style="left:648px;top:290px" width="76" height="72.5" viewBox="0 0 76 72.5">
<rect width="76" height="72.5" fill="#8a3c02"/>
<circle cx="36.0" cy="48.0" r="1.7" fill="#d87a10"/><circle cx="28.8" cy="73.2" r="1.5" fill="#fcd040"/><circle cx="62.2" cy="50.4" r="1.6" fill="#f8bc30"/><circle cx="-0.9" cy="45.5" r="2.0" fill="#e89418"/><circle cx="11.7" cy="66.5" r="1.2" fill="#ffe060"/><circle cx="14.6" cy="37.3" r="1.8" fill="#fcd040"/><circle cx="30.6" cy="61.8" r="1.1" fill="#b85c06"/><circle cx="62.9" cy="48.3" r="1.3" fill="#f2a822"/><circle cx="72.8" cy="7.4" r="1.5" fill="#d87a10"/><circle cx="41.1" cy="64.7" r="1.6" fill="#fcd040"/><circle cx="68.1" cy="40.4" r="1.6" fill="#b85c06"/><circle cx="30.2" cy="30.2" r="1.6" fill="#f2a822"/><circle cx="46.5" cy="39.3" r="1.7" fill="#b85c06"/><circle cx="74.5" cy="71.7" r="1.7" fill="#e89418"/><circle cx="72.4" cy="63.5" r="1.4" fill="#e89418"/><circle cx="7.9" cy="16.5" r="1.4" fill="#f8bc30"/><circle cx="43.7" cy="56.0" r="1.3" fill="#f2a822"/><circle cx="63.2" cy="31.0" r="1.6" fill="#d87a10"/><circle cx="51.7" cy="2.2" r="1.3" fill="#f8bc30"/><circle cx="7.0" cy="40.0" r="1.3" fill="#fcd040"/><circle cx="20.4" cy="31.3" r="1.5" fill="#f8bc30"/><circle cx="48.7" cy="2.9" r="1.5" fill="#d87a10"/><circle cx="25.5" cy="32.9" r="1.7" fill="#ffe060"/><circle cx="36.5" cy="70.2" r="1.3" fill="#f8bc30"/><circle cx="27.4" cy="13.1" r="1.8" fill="#f8bc30"/><circle cx="-0.5" cy="19.0" r="1.8" fill="#e89418"/><circle cx="13.0" cy="58.2" r="1.6" fill="#d87a10"/><circle cx="47.3" cy="72.3" r="2.0" fill="#f8bc30"/><circle cx="11.1" cy="68.1" r="1.9" fill="#fcd040"/><circle cx="63.9" cy="46.6" r="1.3" fill="#f8bc30"/><circle cx="38.2" cy="35.5" r="1.4" fill="#fcd040"/><circle cx="72.8" cy="65.6" r="1.2" fill="#e89418"/><circle cx="47.1" cy="2.4" r="1.4" fill="#ffe060"/><circle cx="39.2" cy="50.8" r="1.7" fill="#d87a10"/><circle cx="56.3" cy="37.8" r="1.1" fill="#b85c06"/><circle cx="53.1" cy="8.8" r="1.9" fill="#f2a822"/><circle cx="9.8" cy="13.9" r="1.5" fill="#b85c06"/><circle cx="42.7" cy="45.5" r="1.9" fill="#e89418"/><circle cx="58.3" cy="30.1" r="1.6" fill="#f2a822"/><circle cx="60.6" cy="42.2" r="1.4" fill="#e89418"/><circle cx="48.8" cy="27.7" r="1.2" fill="#fcd040"/><circle cx="54.4" cy="66.3" r="1.8" fill="#b85c06"/><circle cx="70.0" cy="38.9" r="1.8" fill="#f2a822"/><circle cx="60.8" cy="51.9" r="1.3" fill="#e89418"/><circle cx="71.9" cy="50.3" r="1.6" fill="#f8bc30"/><circle cx="46.7" cy="14.8" r="1.6" fill="#fcd040"/><circle cx="29.7" cy="17.3" r="1.5" fill="#e89418"/><circle cx="5.4" cy="23.8" r="1.7" fill="#fcd040"/><circle cx="23.4" cy="50.8" r="1.8" fill="#fcd040"/><circle cx="48.7" cy="31.5" r="1.3" fill="#d87a10"/><circle cx="37.1" cy="32.1" r="1.3" fill="#fcd040"/><circle cx="45.3" cy="33.0" r="1.9" fill="#b85c06"/><circle cx="72.6" cy="-0.4" r="1.4" fill="#e89418"/><circle cx="65.2" cy="50.3" r="1.4" fill="#f8bc30"/><circle cx="70.7" cy="36.3" r="1.7" fill="#d87a10"/><circle cx="38.1" cy="28.0" r="1.6" fill="#fcd040"/><circle cx="18.5" cy="33.2" r="1.9" fill="#ffe060"/><circle cx="59.2" cy="29.4" r="1.7" fill="#ffe060"/><circle cx="29.8" cy="49.2" r="1.7" fill="#b85c06"/><circle cx="42.2" cy="49.7" r="1.4" fill="#fcd040"/><circle cx="0.3" cy="56.7" r="1.9" fill="#fcd040"/><circle cx="23.0" cy="9.1" r="1.3" fill="#f8bc30"/><circle cx="9.5" cy="35.8" r="1.5" fill="#e89418"/><circle cx="21.3" cy="68.7" r="1.6" fill="#f2a822"/><circle cx="62.4" cy="57.8" r="1.6" fill="#d87a10"/><circle cx="8.8" cy="46.8" r="1.9" fill="#f8bc30"/><circle cx="61.1" cy="27.2" r="1.5" fill="#fcd040"/><circle cx="19.5" cy="29.3" r="1.4" fill="#f2a822"/><circle cx="72.3" cy="59.7" r="1.3" fill="#ffe060"/><circle cx="15.0" cy="18.0" r="2.0" fill="#f8bc30"/><circle cx="68.2" cy="63.7" r="1.7" fill="#fcd040"/><circle cx="63.0" cy="25.7" r="1.8" fill="#e89418"/><circle cx="59.1" cy="63.0" r="1.4" fill="#ffe060"/><circle cx="15.5" cy="64.5" r="1.1" fill="#e89418"/><circle cx="2.3" cy="59.4" r="1.3" fill="#d87a10"/><circle cx="54.8" cy="21.1" r="1.3" fill="#d87a10"/><circle cx="59.3" cy="39.7" r="1.1" fill="#b85c06"/><circle cx="27.4" cy="36.1" r="1.3" fill="#b85c06"/><circle cx="40.2" cy="47.5" r="1.8" fill="#f8bc30"/><circle cx="36.9" cy="20.9" r="1.4" fill="#ffe060"/><circle cx="29.3" cy="29.9" r="1.6" fill="#fcd040"/><circle cx="64.9" cy="0.5" r="1.2" fill="#ffe060"/><circle cx="65.7" cy="50.4" r="2.0" fill="#fcd040"/><circle cx="61.1" cy="39.9" r="2.0" fill="#e89418"/><circle cx="57.8" cy="61.5" r="1.2" fill="#b85c06"/><circle cx="17.1" cy="30.5" r="1.8" fill="#ffe060"/><circle cx="-0.3" cy="17.6" r="1.2" fill="#fcd040"/><circle cx="43.1" cy="67.8" r="1.8" fill="#fcd040"/><circle cx="57.2" cy="69.7" r="1.1" fill="#d87a10"/><circle cx="44.8" cy="58.9" r="1.7" fill="#f2a822"/><circle cx="58.0" cy="30.6" r="1.6" fill="#e89418"/><circle cx="61.4" cy="28.1" r="1.7" fill="#e89418"/><circle cx="73.3" cy="72.5" r="1.8" fill="#e89418"/><circle cx="10.1" cy="8.1" r="1.5" fill="#d87a10"/><circle cx="51.2" cy="-0.1" r="1.3" fill="#f2a822"/><circle cx="33.0" cy="24.3" r="1.5" fill="#e89418"/><circle cx="25.5" cy="27.4" r="1.9" fill="#ffe060"/><circle cx="36.8" cy="13.5" r="1.7" fill="#f8bc30"/><circle cx="47.3" cy="3.8" r="1.4" fill="#e89418"/><circle cx="46.8" cy="8.4" r="1.6" fill="#f2a822"/><circle cx="57.1" cy="17.8" r="1.5" fill="#b85c06"/><circle cx="8.3" cy="42.7" r="1.5" fill="#e89418"/><circle cx="41.7" cy="43.4" r="1.6" fill="#f2a822"/><circle cx="25.2" cy="26.9" r="1.9" fill="#e89418"/><circle cx="72.6" cy="43.6" r="1.2" fill="#f8bc30"/><circle cx="30.2" cy="14.3" r="1.4" fill="#e89418"/><circle cx="47.0" cy="62.9" r="1.2" fill="#e89418"/><circle cx="24.9" cy="48.0" r="1.5" fill="#f8bc30"/><circle cx="24.6" cy="39.0" r="1.9" fill="#f8bc30"/><circle cx="6.9" cy="17.6" r="1.8" fill="#b85c06"/><circle cx="51.6" cy="11.8" r="1.5" fill="#e89418"/><circle cx="4.2" cy="50.2" r="1.3" fill="#e89418"/><circle cx="48.8" cy="46.5" r="1.6" fill="#f2a822"/><circle cx="57.0" cy="22.1" r="1.2" fill="#f2a822"/><circle cx="29.6" cy="33.7" r="1.4" fill="#fcd040"/><circle cx="69.4" cy="13.6" r="1.6" fill="#ffe060"/><circle cx="55.7" cy="36.4" r="1.7" fill="#f8bc30"/><circle cx="65.2" cy="24.3" r="1.5" fill="#d87a10"/><circle cx="0.9" cy="65.3" r="1.8" fill="#f2a822"/><circle cx="51.4" cy="20.6" r="1.5" fill="#fcd040"/><circle cx="64.3" cy="30.4" r="1.4" fill="#e89418"/><circle cx="32.0" cy="60.9" r="1.2" fill="#f2a822"/><circle cx="8.1" cy="21.9" r="1.2" fill="#b85c06"/><circle cx="59.8" cy="40.1" r="1.6" fill="#e89418"/><circle cx="45.9" cy="68.5" r="1.2" fill="#d87a10"/><circle cx="28.6" cy="38.4" r="1.3" fill="#f8bc30"/><circle cx="63.0" cy="57.5" r="1.2" fill="#d87a10"/><circle cx="58.7" cy="40.1" r="1.8" fill="#e89418"/><circle cx="1.7" cy="39.7" r="1.5" fill="#f2a822"/><circle cx="47.2" cy="12.8" r="1.9" fill="#ffe060"/><circle cx="65.0" cy="3.3" r="1.4" fill="#f2a822"/><circle cx="29.0" cy="61.7" r="1.2" fill="#f8bc30"/><circle cx="70.8" cy="37.9" r="1.6" fill="#ffe060"/><circle cx="74.8" cy="55.4" r="1.5" fill="#b85c06"/><circle cx="65.1" cy="26.8" r="1.9" fill="#b85c06"/><circle cx="25.2" cy="4.4" r="1.7" fill="#e89418"/><circle cx="76.3" cy="15.4" r="1.5" fill="#ffe060"/><circle cx="39.2" cy="28.3" r="1.2" fill="#fcd040"/><circle cx="51.8" cy="63.8" r="1.7" fill="#e89418"/><circle cx="53.0" cy="24.8" r="1.7" fill="#ffe060"/><circle cx="2.3" cy="71.7" r="1.2" fill="#f8bc30"/><circle cx="10.7" cy="57.6" r="1.6" fill="#d87a10"/><circle cx="12.8" cy="60.6" r="1.9" fill="#d87a10"/><circle cx="63.9" cy="0.5" r="1.2" fill="#f2a822"/><circle cx="43.4" cy="51.2" r="1.8" fill="#ffe060"/><circle cx="18.6" cy="-0.2" r="1.5" fill="#ffe060"/><circle cx="32.8" cy="11.6" r="1.1" fill="#f8bc30"/><circle cx="26.7" cy="20.8" r="1.7" fill="#e89418"/><circle cx="31.4" cy="23.2" r="1.6" fill="#f8bc30"/><circle cx="67.0" cy="45.3" r="1.6" fill="#b85c06"/><circle cx="22.3" cy="64.0" r="1.4" fill="#ffe060"/><circle cx="3.5" cy="22.7" r="1.9" fill="#fcd040"/><circle cx="60.0" cy="65.6" r="1.9" fill="#b85c06"/><circle cx="73.9" cy="3.9" r="1.3" fill="#f2a822"/><circle cx="76.5" cy="72.5" r="1.4" fill="#e89418"/><circle cx="59.8" cy="31.6" r="1.9" fill="#e89418"/><circle cx="25.3" cy="46.0" r="2.0" fill="#e89418"/><circle cx="50.5" cy="34.8" r="1.3" fill="#d87a10"/><circle cx="47.4" cy="60.5" r="1.7" fill="#f2a822"/><circle cx="68.9" cy="68.5" r="1.6" fill="#fcd040"/><circle cx="69.6" cy="38.8" r="1.5" fill="#e89418"/><circle cx="75.8" cy="62.0" r="1.7" fill="#f8bc30"/><circle cx="52.2" cy="38.5" r="1.7" fill="#d87a10"/><circle cx="7.9" cy="47.4" r="1.3" fill="#e89418"/><circle cx="47.7" cy="23.4" r="2.0" fill="#fcd040"/><circle cx="34.2" cy="5.7" r="1.7" fill="#d87a10"/><circle cx="12.2" cy="62.0" r="1.6" fill="#d87a10"/><circle cx="49.7" cy="9.7" r="1.6" fill="#d87a10"/><circle cx="55.4" cy="45.6" r="1.7" fill="#b85c06"/><circle cx="17.2" cy="53.4" r="1.5" fill="#d87a10"/><circle cx="11.4" cy="5.6" r="1.9" fill="#f8bc30"/><circle cx="76.6" cy="40.9" r="1.3" fill="#f2a822"/><circle cx="60.9" cy="71.3" r="1.9" fill="#f8bc30"/><circle cx="41.8" cy="17.4" r="1.9" fill="#e89418"/><circle cx="18.5" cy="28.3" r="1.6" fill="#f8bc30"/><circle cx="67.5" cy="48.9" r="1.5" fill="#b85c06"/><circle cx="34.1" cy="37.8" r="2.0" fill="#fcd040"/><circle cx="32.9" cy="63.3" r="1.3" fill="#b85c06"/><circle cx="51.4" cy="0.4" r="1.2" fill="#f8bc30"/><circle cx="10.0" cy="21.3" r="1.3" fill="#f2a822"/><circle cx="49.8" cy="51.8" r="1.9" fill="#ffe060"/><circle cx="5.8" cy="12.1" r="1.4" fill="#ffe060"/><circle cx="11.7" cy="29.1" r="1.9" fill="#b85c06"/><circle cx="10.8" cy="5.0" r="1.3" fill="#e89418"/><circle cx="19.5" cy="52.7" r="1.2" fill="#fcd040"/><circle cx="44.6" cy="31.7" r="1.8" fill="#b85c06"/><circle cx="67.5" cy="31.5" r="2.0" fill="#f2a822"/><circle cx="28.0" cy="19.9" r="1.4" fill="#b85c06"/><circle cx="7.3" cy="19.4" r="1.7" fill="#e89418"/><circle cx="59.7" cy="34.7" r="1.4" fill="#b85c06"/><circle cx="5.6" cy="-0.5" r="1.3" fill="#f2a822"/><circle cx="52.0" cy="63.3" r="1.9" fill="#f2a822"/><circle cx="68.0" cy="56.0" r="1.4" fill="#b85c06"/><circle cx="6.2" cy="65.2" r="1.2" fill="#f2a822"/><circle cx="12.1" cy="72.7" r="1.9" fill="#f2a822"/><circle cx="23.4" cy="21.2" r="1.8" fill="#b85c06"/><circle cx="-0.8" cy="13.6" r="1.5" fill="#f8bc30"/><circle cx="23.4" cy="52.2" r="1.3" fill="#d87a10"/><circle cx="61.7" cy="29.8" r="1.2" fill="#e89418"/><circle cx="76.1" cy="-0.6" r="1.5" fill="#e89418"/><circle cx="4.9" cy="24.2" r="1.1" fill="#e89418"/><circle cx="32.1" cy="18.8" r="1.2" fill="#d87a10"/><circle cx="15.1" cy="57.2" r="2.0" fill="#f8bc30"/><circle cx="62.5" cy="54.0" r="1.3" fill="#b85c06"/><circle cx="3.0" cy="58.3" r="1.7" fill="#fcd040"/><circle cx="10.2" cy="58.0" r="1.6" fill="#b85c06"/><circle cx="27.7" cy="11.8" r="1.5" fill="#b85c06"/><circle cx="6.1" cy="5.0" r="1.8" fill="#e89418"/><circle cx="64.5" cy="12.8" r="1.7" fill="#fcd040"/><circle cx="37.8" cy="30.8" r="1.3" fill="#d87a10"/><circle cx="22.8" cy="55.3" r="1.9" fill="#b85c06"/><circle cx="35.9" cy="2.8" r="1.8" fill="#ffe060"/><circle cx="23.7" cy="-0.0" r="1.4" fill="#f8bc30"/><circle cx="31.9" cy="29.9" r="1.2" fill="#ffe060"/><circle cx="8.7" cy="35.2" r="1.9" fill="#b85c06"/><circle cx="75.8" cy="3.5" r="1.9" fill="#f2a822"/><circle cx="59.7" cy="42.2" r="1.7" fill="#f2a822"/><circle cx="37.8" cy="30.9" r="1.3" fill="#f2a822"/><circle cx="30.6" cy="45.8" r="1.6" fill="#f2a822"/><circle cx="59.3" cy="23.6" r="1.7" fill="#d87a10"/><circle cx="62.2" cy="19.9" r="1.6" fill="#ffe060"/><circle cx="4.7" cy="9.9" r="1.3" fill="#f8bc30"/><circle cx="0.7" cy="35.7" r="1.8" fill="#fcd040"/><circle cx="32.3" cy="15.7" r="1.6" fill="#f2a822"/><circle cx="50.7" cy="11.2" r="1.9" fill="#e89418"/><circle cx="69.6" cy="40.0" r="1.4" fill="#d87a10"/><circle cx="71.1" cy="72.3" r="1.1" fill="#f8bc30"/><circle cx="7.1" cy="69.7" r="1.8" fill="#e89418"/><circle cx="73.9" cy="29.6" r="1.4" fill="#e89418"/><circle cx="47.9" cy="33.0" r="1.7" fill="#fcd040"/><circle cx="47.7" cy="8.1" r="1.7" fill="#f8bc30"/><circle cx="66.6" cy="38.9" r="1.6" fill="#d87a10"/><circle cx="58.6" cy="38.7" r="1.9" fill="#b85c06"/><circle cx="69.3" cy="8.2" r="1.4" fill="#f8bc30"/><circle cx="72.6" cy="44.7" r="1.9" fill="#f2a822"/><circle cx="2.4" cy="25.0" r="1.3" fill="#f2a822"/><circle cx="7.1" cy="48.9" r="1.7" fill="#e89418"/><circle cx="28.5" cy="13.0" r="1.5" fill="#e89418"/><circle cx="18.1" cy="67.8" r="1.3" fill="#f2a822"/><circle cx="46.0" cy="64.2" r="2.0" fill="#d87a10"/><circle cx="58.6" cy="45.7" r="1.6" fill="#b85c06"/><circle cx="59.4" cy="9.9" r="1.8" fill="#ffe060"/><circle cx="28.3" cy="8.1" r="1.4" fill="#ffe060"/><circle cx="41.9" cy="44.4" r="1.5" fill="#fcd040"/><circle cx="16.3" cy="18.8" r="1.5" fill="#b85c06"/><circle cx="52.0" cy="59.1" r="1.4" fill="#d87a10"/><circle cx="17.7" cy="36.4" r="1.7" fill="#ffe060"/><circle cx="8.8" cy="1.8" r="1.5" fill="#b85c06"/><circle cx="39.1" cy="47.2" r="1.4" fill="#d87a10"/><circle cx="2.4" cy="45.1" r="1.9" fill="#fcd040"/><circle cx="33.8" cy="43.8" r="1.5" fill="#fcd040"/><circle cx="26.0" cy="46.2" r="1.1" fill="#e89418"/><circle cx="45.1" cy="45.4" r="1.9" fill="#f8bc30"/><circle cx="37.2" cy="9.0" r="1.5" fill="#f8bc30"/><circle cx="45.3" cy="1.6" r="1.9" fill="#ffe060"/><circle cx="34.5" cy="22.4" r="1.9" fill="#f2a822"/><circle cx="16.4" cy="68.4" r="1.6" fill="#ffe060"/><circle cx="58.5" cy="49.6" r="1.2" fill="#e89418"/><circle cx="35.9" cy="68.2" r="1.8" fill="#ffe060"/><circle cx="22.5" cy="52.4" r="2.0" fill="#d87a10"/><circle cx="4.1" cy="55.0" r="1.2" fill="#d87a10"/><circle cx="57.2" cy="56.3" r="1.6" fill="#b85c06"/><circle cx="23.3" cy="68.5" r="1.7" fill="#ffe060"/><circle cx="73.8" cy="19.0" r="1.5" fill="#fcd040"/><circle cx="10.0" cy="17.3" r="2.0" fill="#d87a10"/><circle cx="68.9" cy="52.3" r="1.3" fill="#fcd040"/><circle cx="13.5" cy="39.4" r="1.8" fill="#d87a10"/><circle cx="19.7" cy="20.6" r="1.9" fill="#e89418"/><circle cx="37.6" cy="19.1" r="1.9" fill="#ffe060"/><circle cx="63.2" cy="13.8" r="1.8" fill="#d87a10"/><circle cx="46.3" cy="23.2" r="1.1" fill="#ffe060"/><circle cx="57.5" cy="36.6" r="1.7" fill="#b85c06"/><circle cx="34.8" cy="73.4" r="1.3" fill="#f2a822"/><circle cx="57.0" cy="43.6" r="1.8" fill="#fcd040"/><circle cx="8.3" cy="39.4" r="1.2" fill="#f8bc30"/><circle cx="32.3" cy="52.5" r="1.5" fill="#f8bc30"/><circle cx="27.7" cy="26.3" r="1.7" fill="#fcd040"/><circle cx="68.8" cy="44.7" r="1.7" fill="#f8bc30"/><circle cx="0.0" cy="69.1" r="1.6" fill="#e89418"/><circle cx="33.8" cy="24.6" r="1.6" fill="#d87a10"/><circle cx="31.6" cy="39.4" r="2.0" fill="#ffe060"/><circle cx="11.6" cy="71.1" r="1.7" fill="#e89418"/><circle cx="60.2" cy="36.8" r="1.5" fill="#d87a10"/><circle cx="69.1" cy="52.4" r="1.3" fill="#f2a822"/><circle cx="-0.4" cy="70.2" r="1.8" fill="#ffe060"/><circle cx="67.8" cy="30.8" r="2.0" fill="#e89418"/><circle cx="56.6" cy="14.8" r="1.7" fill="#f2a822"/><circle cx="20.9" cy="32.1" r="1.7" fill="#d87a10"/><circle cx="39.4" cy="42.9" r="1.8" fill="#e89418"/><circle cx="42.7" cy="10.9" r="1.9" fill="#f2a822"/><circle cx="36.2" cy="1.4" r="1.6" fill="#f2a822"/><circle cx="37.7" cy="30.6" r="1.7" fill="#d87a10"/><circle cx="65.4" cy="68.0" r="1.8" fill="#f2a822"/><circle cx="22.4" cy="68.1" r="1.9" fill="#fcd040"/><circle cx="51.8" cy="53.4" r="1.3" fill="#fcd040"/><circle cx="60.0" cy="70.1" r="1.2" fill="#ffe060"/><circle cx="57.8" cy="50.8" r="1.5" fill="#fcd040"/><circle cx="1.5" cy="65.7" r="1.3" fill="#b85c06"/><circle cx="19.2" cy="11.3" r="1.9" fill="#d87a10"/><circle cx="69.6" cy="48.5" r="1.2" fill="#f2a822"/><circle cx="67.0" cy="59.1" r="1.9" fill="#ffe060"/><circle cx="20.7" cy="47.3" r="1.6" fill="#e89418"/><circle cx="76.2" cy="-0.7" r="1.5" fill="#f8bc30"/><circle cx="13.7" cy="-0.2" r="1.7" fill="#e89418"/><circle cx="2.5" cy="58.8" r="2.0" fill="#ffe060"/><circle cx="49.8" cy="33.0" r="1.1" fill="#f2a822"/><circle cx="76.9" cy="31.3" r="1.9" fill="#e89418"/><circle cx="28.9" cy="72.0" r="1.6" fill="#ffe060"/><circle cx="41.5" cy="26.9" r="1.9" fill="#f8bc30"/><circle cx="71.4" cy="72.6" r="1.9" fill="#ffe060"/><circle cx="27.4" cy="24.2" r="1.9" fill="#ffe060"/><circle cx="38.9" cy="8.7" r="1.6" fill="#e89418"/><circle cx="42.6" cy="3.3" r="1.6" fill="#d87a10"/><circle cx="7.4" cy="19.9" r="1.1" fill="#b85c06"/><circle cx="59.1" cy="42.2" r="1.2" fill="#f2a822"/><circle cx="0.7" cy="29.7" r="1.7" fill="#f8bc30"/><circle cx="45.0" cy="17.7" r="2.0" fill="#ffe060"/><circle cx="38.6" cy="17.8" r="1.6" fill="#f2a822"/><circle cx="49.7" cy="37.4" r="1.2" fill="#f8bc30"/><circle cx="32.0" cy="40.5" r="1.3" fill="#e89418"/><circle cx="29.4" cy="36.2" r="1.9" fill="#ffe060"/><circle cx="68.4" cy="49.3" r="1.1" fill="#fcd040"/><circle cx="32.5" cy="57.0" r="1.7" fill="#b85c06"/><circle cx="26.8" cy="6.4" r="1.8" fill="#e89418"/><circle cx="63.7" cy="54.2" r="1.9" fill="#e89418"/><circle cx="68.8" cy="15.9" r="1.7" fill="#f8bc30"/><circle cx="22.2" cy="5.6" r="1.9" fill="#e89418"/><circle cx="49.7" cy="6.5" r="1.2" fill="#f8bc30"/><circle cx="37.6" cy="63.5" r="1.2" fill="#e89418"/><circle cx="35.6" cy="48.8" r="1.1" fill="#f8bc30"/><circle cx="33.8" cy="73.0" r="2.0" fill="#e89418"/><circle cx="49.2" cy="13.4" r="1.6" fill="#ffe060"/><circle cx="69.0" cy="8.3" r="2.0" fill="#f2a822"/><circle cx="75.8" cy="24.6" r="1.8" fill="#f2a822"/><circle cx="57.2" cy="11.9" r="1.1" fill="#d87a10"/><circle cx="67.6" cy="52.5" r="1.3" fill="#e89418"/><circle cx="28.8" cy="3.0" r="1.4" fill="#fcd040"/><circle cx="33.3" cy="68.4" r="1.2" fill="#f2a822"/><circle cx="27.4" cy="29.1" r="1.9" fill="#b85c06"/><circle cx="13.1" cy="20.8" r="1.7" fill="#d87a10"/><circle cx="42.3" cy="54.9" r="1.6" fill="#fcd040"/><circle cx="23.4" cy="67.7" r="1.6" fill="#fcd040"/><circle cx="69.9" cy="15.3" r="1.3" fill="#b85c06"/><circle cx="31.5" cy="38.3" r="1.2" fill="#fcd040"/><circle cx="66.2" cy="7.5" r="1.5" fill="#f8bc30"/><circle cx="36.2" cy="41.0" r="1.9" fill="#f8bc30"/><circle cx="60.1" cy="18.0" r="1.3" fill="#ffe060"/><circle cx="19.7" cy="6.7" r="1.9" fill="#fcd040"/><circle cx="15.7" cy="38.4" r="1.9" fill="#e89418"/><circle cx="26.0" cy="30.5" r="1.4" fill="#f8bc30"/><circle cx="46.4" cy="36.0" r="1.9" fill="#f2a822"/><circle cx="70.3" cy="59.9" r="1.2" fill="#f8bc30"/><circle cx="36.4" cy="50.6" r="1.3" fill="#f8bc30"/><circle cx="53.2" cy="12.3" r="2.0" fill="#e89418"/><circle cx="49.3" cy="7.2" r="1.2" fill="#ffe060"/><circle cx="74.1" cy="20.9" r="1.5" fill="#b85c06"/><circle cx="26.3" cy="61.4" r="1.6" fill="#ffe060"/><circle cx="13.6" cy="67.6" r="1.7" fill="#e89418"/><circle cx="22.0" cy="20.4" r="1.6" fill="#fcd040"/><circle cx="47.5" cy="13.9" r="1.2" fill="#ffe060"/><circle cx="33.0" cy="7.2" r="1.8" fill="#f2a822"/><circle cx="60.5" cy="69.1" r="2.0" fill="#f8bc30"/><circle cx="73.6" cy="11.8" r="1.4" fill="#f2a822"/><circle cx="65.6" cy="34.7" r="1.1" fill="#b85c06"/><circle cx="41.8" cy="9.2" r="1.7" fill="#e89418"/><circle cx="14.9" cy="56.8" r="1.5" fill="#ffe060"/><circle cx="33.7" cy="18.4" r="1.6" fill="#fcd040"/><circle cx="43.3" cy="20.7" r="1.2" fill="#e89418"/><circle cx="11.4" cy="73.2" r="1.6" fill="#f8bc30"/><circle cx="59.3" cy="56.8" r="1.5" fill="#f2a822"/><circle cx="23.2" cy="19.2" r="1.2" fill="#e89418"/><circle cx="20.9" cy="12.6" r="1.3" fill="#e89418"/><circle cx="6.6" cy="16.6" r="1.8" fill="#ffe060"/><circle cx="66.2" cy="35.8" r="1.4" fill="#fcd040"/><circle cx="57.9" cy="47.1" r="1.7" fill="#ffe060"/><circle cx="40.0" cy="18.0" r="1.8" fill="#d87a10"/><circle cx="74.3" cy="56.4" r="1.2" fill="#b85c06"/><circle cx="3.0" cy="59.1" r="1.3" fill="#d87a10"/><circle cx="52.3" cy="5.5" r="1.3" fill="#f8bc30"/><circle cx="13.5" cy="52.1" r="1.3" fill="#d87a10"/><circle cx="76.9" cy="23.8" r="1.1" fill="#b85c06"/><circle cx="64.4" cy="12.1" r="2.0" fill="#e89418"/><circle cx="30.9" cy="18.2" r="1.2" fill="#d87a10"/><circle cx="58.6" cy="49.7" r="1.3" fill="#f2a822"/><circle cx="62.6" cy="10.6" r="2.0" fill="#b85c06"/><circle cx="26.3" cy="59.4" r="1.1" fill="#fcd040"/><circle cx="70.0" cy="50.2" r="1.7" fill="#b85c06"/><circle cx="24.3" cy="55.0" r="1.8" fill="#fcd040"/><circle cx="37.5" cy="39.0" r="1.8" fill="#d87a10"/><circle cx="6.2" cy="18.5" r="1.4" fill="#b85c06"/><circle cx="23.0" cy="7.3" r="1.4" fill="#f8bc30"/><circle cx="49.9" cy="21.8" r="1.5" fill="#b85c06"/><circle cx="20.4" cy="60.9" r="1.6" fill="#fcd040"/><circle cx="32.4" cy="59.3" r="1.3" fill="#f8bc30"/><circle cx="64.6" cy="66.4" r="1.7" fill="#d87a10"/><circle cx="19.4" cy="29.2" r="1.9" fill="#f8bc30"/><circle cx="28.4" cy="65.3" r="1.3" fill="#f8bc30"/><circle cx="42.5" cy="12.1" r="1.6" fill="#f8bc30"/><circle cx="22.8" cy="68.2" r="1.6" fill="#f2a822"/><circle cx="5.6" cy="69.3" r="1.9" fill="#ffe060"/><circle cx="4.2" cy="23.9" r="1.3" fill="#ffe060"/><circle cx="65.7" cy="62.3" r="1.7" fill="#f2a822"/><circle cx="29.4" cy="65.8" r="1.3" fill="#f2a822"/><circle cx="51.2" cy="24.1" r="1.7" fill="#e89418"/><circle cx="62.3" cy="38.1" r="1.2" fill="#b85c06"/><circle cx="12.9" cy="48.6" r="1.2" fill="#fcd040"/><circle cx="58.0" cy="44.5" r="1.2" fill="#f8bc30"/><circle cx="-0.3" cy="1.4" r="1.7" fill="#b85c06"/><circle cx="73.3" cy="64.8" r="2.0" fill="#b85c06"/><circle cx="26.4" cy="14.3" r="1.7" fill="#d87a10"/><circle cx="6.1" cy="23.8" r="1.9" fill="#b85c06"/><circle cx="47.2" cy="12.5" r="1.3" fill="#fcd040"/><circle cx="1.5" cy="27.6" r="1.5" fill="#f2a822"/><circle cx="43.4" cy="62.7" r="1.4" fill="#ffe060"/><circle cx="27.4" cy="21.3" r="1.2" fill="#f8bc30"/><circle cx="18.0" cy="4.4" r="1.3" fill="#f8bc30"/><circle cx="26.4" cy="23.1" r="1.5" fill="#d87a10"/><circle cx="18.3" cy="68.8" r="1.5" fill="#fcd040"/><circle cx="22.4" cy="13.3" r="1.6" fill="#fcd040"/><circle cx="33.0" cy="24.4" r="1.8" fill="#ffe060"/><circle cx="54.1" cy="38.2" r="1.9" fill="#f2a822"/><circle cx="58.9" cy="72.3" r="1.3" fill="#e89418"/><circle cx="29.9" cy="40.4" r="1.3" fill="#e89418"/><circle cx="2.9" cy="25.8" r="1.5" fill="#f8bc30"/><circle cx="42.2" cy="30.7" r="1.3" fill="#fcd040"/><circle cx="38.9" cy="35.1" r="1.6" fill="#fcd040"/><circle cx="31.9" cy="45.0" r="1.2" fill="#f2a822"/><circle cx="5.2" cy="69.5" r="1.1" fill="#e89418"/><circle cx="19.6" cy="40.6" r="1.7" fill="#b85c06"/><circle cx="15.2" cy="60.4" r="1.9" fill="#b85c06"/><circle cx="37.0" cy="23.1" r="1.6" fill="#e89418"/><circle cx="51.9" cy="69.2" r="1.7" fill="#e89418"/><circle cx="9.0" cy="29.1" r="1.7" fill="#f8bc30"/><circle cx="66.3" cy="63.4" r="1.4" fill="#d87a10"/><circle cx="51.2" cy="11.3" r="1.8" fill="#f8bc30"/><circle cx="68.3" cy="0.8" r="1.4" fill="#d87a10"/><circle cx="30.7" cy="56.7" r="1.9" fill="#fcd040"/><circle cx="57.8" cy="62.1" r="1.4" fill="#fcd040"/><circle cx="72.4" cy="7.2" r="1.2" fill="#d87a10"/><circle cx="65.2" cy="13.1" r="1.6" fill="#f8bc30"/><circle cx="57.0" cy="55.4" r="1.3" fill="#e89418"/><circle cx="50.3" cy="52.0" r="1.7" fill="#fcd040"/><circle cx="41.1" cy="54.5" r="1.7" fill="#e89418"/><circle cx="35.6" cy="3.3" r="1.2" fill="#f8bc30"/><circle cx="70.9" cy="20.0" r="1.6" fill="#fcd040"/><circle cx="70.3" cy="13.4" r="1.3" fill="#ffe060"/><circle cx="1.5" cy="10.9" r="1.4" fill="#ffe060"/><circle cx="55.9" cy="50.7" r="1.2" fill="#fcd040"/><circle cx="47.9" cy="31.9" r="1.7" fill="#fcd040"/><circle cx="19.3" cy="57.4" r="1.6" fill="#ffe060"/><circle cx="45.4" cy="0.4" r="1.7" fill="#fcd040"/><circle cx="11.6" cy="23.4" r="1.2" fill="#ffe060"/><circle cx="61.8" cy="42.3" r="1.6" fill="#ffe060"/><circle cx="63.6" cy="28.5" r="1.1" fill="#f8bc30"/><circle cx="42.4" cy="38.9" r="1.3" fill="#b85c06"/><circle cx="61.3" cy="62.5" r="1.3" fill="#ffe060"/><circle cx="7.3" cy="46.8" r="1.6" fill="#fcd040"/><circle cx="17.6" cy="28.3" r="1.4" fill="#ffe060"/><circle cx="6.4" cy="68.3" r="1.9" fill="#fcd040"/><circle cx="19.3" cy="61.0" r="1.5" fill="#b85c06"/><circle cx="3.3" cy="24.7" r="1.5" fill="#f8bc30"/><circle cx="30.6" cy="11.0" r="1.8" fill="#d87a10"/><circle cx="32.6" cy="10.4" r="1.5" fill="#f8bc30"/><circle cx="74.0" cy="31.5" r="1.2" fill="#d87a10"/><circle cx="-0.9" cy="0.6" r="1.2" fill="#b85c06"/><circle cx="67.6" cy="28.5" r="1.6" fill="#f2a822"/><circle cx="37.6" cy="27.3" r="1.9" fill="#fcd040"/><circle cx="40.8" cy="42.4" r="1.2" fill="#b85c06"/><circle cx="6.8" cy="16.4" r="1.4" fill="#ffe060"/><circle cx="23.0" cy="30.8" r="1.6" fill="#f2a822"/><circle cx="61.4" cy="36.4" r="2.0" fill="#e89418"/><circle cx="49.9" cy="36.3" r="1.5" fill="#e89418"/><circle cx="38.3" cy="61.8" r="2.0" fill="#f2a822"/><circle cx="24.6" cy="54.8" r="1.2" fill="#f8bc30"/><circle cx="43.8" cy="38.6" r="1.8" fill="#e89418"/><circle cx="66.3" cy="23.1" r="1.7" fill="#b85c06"/><circle cx="25.4" cy="64.8" r="1.9" fill="#f2a822"/><circle cx="61.2" cy="15.4" r="1.8" fill="#f8bc30"/><circle cx="38.6" cy="68.9" r="1.2" fill="#fcd040"/><circle cx="74.7" cy="58.7" r="1.6" fill="#f2a822"/><circle cx="5.0" cy="67.3" r="1.7" fill="#b85c06"/><circle cx="65.0" cy="43.3" r="1.5" fill="#b85c06"/><circle cx="4.6" cy="14.4" r="1.3" fill="#ffe060"/><circle cx="21.5" cy="70.9" r="1.4" fill="#d87a10"/><circle cx="73.2" cy="53.7" r="1.3" fill="#e89418"/><circle cx="19.9" cy="49.6" r="1.6" fill="#fcd040"/><circle cx="32.2" cy="45.3" r="1.3" fill="#d87a10"/><circle cx="7.2" cy="43.8" r="1.9" fill="#fcd040"/><circle cx="76.6" cy="14.5" r="1.3" fill="#f8bc30"/><circle cx="71.1" cy="71.3" r="1.9" fill="#d87a10"/><circle cx="75.4" cy="52.0" r="1.6" fill="#b85c06"/><circle cx="35.3" cy="65.4" r="1.7" fill="#f8bc30"/><circle cx="76.2" cy="2.2" r="1.4" fill="#d87a10"/><circle cx="7.0" cy="27.4" r="1.3" fill="#fcd040"/><circle cx="0.1" cy="20.4" r="2.0" fill="#f8bc30"/><circle cx="67.9" cy="22.1" r="1.7" fill="#fcd040"/><circle cx="32.0" cy="31.5" r="2.0" fill="#f8bc30"/><circle cx="54.8" cy="36.8" r="1.1" fill="#fcd040"/><circle cx="1.9" cy="64.4" r="1.8" fill="#f2a822"/><circle cx="43.7" cy="66.0" r="1.2" fill="#fcd040"/><circle cx="3.5" cy="35.4" r="1.3" fill="#fcd040"/><circle cx="7.2" cy="45.6" r="1.2" fill="#fcd040"/><circle cx="7.9" cy="52.8" r="1.3" fill="#ffe060"/><circle cx="18.7" cy="38.0" r="1.4" fill="#e89418"/><circle cx="16.9" cy="52.9" r="1.5" fill="#d87a10"/><circle cx="31.1" cy="9.1" r="1.9" fill="#b85c06"/><circle cx="11.5" cy="40.0" r="1.7" fill="#b85c06"/><circle cx="37.8" cy="5.2" r="1.3" fill="#f2a822"/><circle cx="62.1" cy="20.8" r="1.9" fill="#b85c06"/><circle cx="0.9" cy="70.1" r="1.9" fill="#e89418"/><circle cx="53.1" cy="68.0" r="1.8" fill="#d87a10"/><circle cx="-0.2" cy="6.1" r="2.0" fill="#b85c06"/><circle cx="4.0" cy="63.2" r="1.9" fill="#e89418"/><circle cx="73.0" cy="1.2" r="1.4" fill="#d87a10"/><circle cx="2.9" cy="72.8" r="1.3" fill="#d87a10"/><circle cx="67.3" cy="1.1" r="1.9" fill="#fcd040"/><circle cx="12.0" cy="65.9" r="1.4" fill="#d87a10"/><circle cx="20.0" cy="20.8" r="1.3" fill="#b85c06"/><circle cx="19.5" cy="34.4" r="1.8" fill="#d87a10"/><circle cx="70.6" cy="13.1" r="2.0" fill="#f8bc30"/><circle cx="34.2" cy="26.8" r="1.6" fill="#b85c06"/><circle cx="6.2" cy="7.9" r="1.2" fill="#f8bc30"/><circle cx="19.7" cy="11.8" r="1.9" fill="#b85c06"/><circle cx="20.3" cy="43.5" r="1.5" fill="#e89418"/><circle cx="68.0" cy="40.0" r="1.4" fill="#ffe060"/><circle cx="15.2" cy="42.8" r="1.2" fill="#fcd040"/><circle cx="19.3" cy="4.3" r="1.4" fill="#d87a10"/><circle cx="49.9" cy="57.0" r="1.3" fill="#ffe060"/><circle cx="44.1" cy="39.1" r="1.5" fill="#d87a10"/><circle cx="3.4" cy="7.6" r="1.5" fill="#f2a822"/><circle cx="63.3" cy="67.9" r="1.9" fill="#ffe060"/><circle cx="29.6" cy="6.0" r="1.6" fill="#fcd040"/><circle cx="25.0" cy="56.9" r="1.1" fill="#fcd040"/><circle cx="18.9" cy="59.0" r="1.9" fill="#f8bc30"/><circle cx="20.2" cy="49.0" r="1.3" fill="#d87a10"/><circle cx="22.9" cy="71.7" r="1.8" fill="#f8bc30"/><circle cx="9.6" cy="27.0" r="1.3" fill="#d87a10"/><circle cx="53.9" cy="21.0" r="1.9" fill="#f8bc30"/><circle cx="67.2" cy="24.1" r="1.2" fill="#ffe060"/><circle cx="30.0" cy="46.6" r="1.2" fill="#ffe060"/><circle cx="76.8" cy="38.7" r="1.6" fill="#d87a10"/><circle cx="8.4" cy="52.7" r="1.9" fill="#f8bc30"/><circle cx="-0.3" cy="54.2" r="1.9" fill="#f2a822"/><circle cx="1.0" cy="58.4" r="1.4" fill="#fcd040"/><circle cx="9.8" cy="61.0" r="1.9" fill="#b85c06"/><circle cx="14.3" cy="44.4" r="1.4" fill="#e89418"/><circle cx="16.0" cy="30.4" r="1.9" fill="#e89418"/><circle cx="69.7" cy="44.4" r="1.9" fill="#fcd040"/><circle cx="57.5" cy="61.0" r="1.7" fill="#b85c06"/><circle cx="6.3" cy="28.4" r="2.0" fill="#f8bc30"/><circle cx="50.4" cy="50.6" r="1.5" fill="#fcd040"/><circle cx="46.1" cy="53.4" r="1.7" fill="#f8bc30"/><circle cx="76.3" cy="22.4" r="1.4" fill="#ffe060"/><circle cx="6.8" cy="25.5" r="1.9" fill="#ffe060"/><circle cx="38.5" cy="9.9" r="1.2" fill="#e89418"/><circle cx="28.2" cy="66.1" r="1.6" fill="#f8bc30"/><circle cx="44.4" cy="20.5" r="1.8" fill="#e89418"/><circle cx="7.8" cy="20.7" r="1.7" fill="#b85c06"/><circle cx="21.1" cy="56.5" r="1.6" fill="#b85c06"/><circle cx="3.0" cy="48.0" r="1.5" fill="#ffe060"/><circle cx="31.5" cy="48.3" r="1.4" fill="#fcd040"/><circle cx="23.5" cy="69.7" r="1.7" fill="#ffe060"/><circle cx="16.7" cy="23.5" r="1.3" fill="#e89418"/><circle cx="39.4" cy="14.8" r="1.7" fill="#f2a822"/><circle cx="49.7" cy="49.7" r="1.8" fill="#d87a10"/><circle cx="7.3" cy="72.4" r="1.8" fill="#e89418"/><circle cx="5.1" cy="18.8" r="2.0" fill="#f2a822"/><circle cx="21.6" cy="5.1" r="1.2" fill="#e89418"/><circle cx="0.9" cy="12.0" r="1.2" fill="#e89418"/><circle cx="14.9" cy="27.9" r="1.2" fill="#f2a822"/><circle cx="43.8" cy="63.2" r="1.4" fill="#e89418"/><circle cx="45.0" cy="45.7" r="1.6" fill="#f8bc30"/><circle cx="23.2" cy="37.9" r="1.4" fill="#e89418"/><circle cx="16.7" cy="0.2" r="1.9" fill="#f8bc30"/><circle cx="-0.3" cy="30.0" r="1.6" fill="#ffe060"/><circle cx="70.0" cy="26.9" r="1.9" fill="#f8bc30"/><circle cx="50.8" cy="57.5" r="1.8" fill="#b85c06"/><circle cx="39.4" cy="24.4" r="1.7" fill="#f2a822"/><circle cx="69.0" cy="7.1" r="1.6" fill="#b85c06"/><circle cx="76.7" cy="7.1" r="1.9" fill="#b85c06"/><circle cx="19.4" cy="13.0" r="1.8" fill="#f8bc30"/><circle cx="72.3" cy="56.0" r="1.4" fill="#d87a10"/><circle cx="34.3" cy="9.8" r="1.5" fill="#d87a10"/><circle cx="26.1" cy="65.3" r="1.5" fill="#f8bc30"/><circle cx="54.3" cy="7.0" r="1.8" fill="#f8bc30"/><circle cx="22.0" cy="17.9" r="1.2" fill="#b85c06"/><circle cx="28.3" cy="48.3" r="1.3" fill="#d87a10"/><circle cx="1.7" cy="19.7" r="1.9" fill="#d87a10"/><circle cx="16.7" cy="14.7" r="1.3" fill="#f2a822"/><circle cx="65.5" cy="56.5" r="1.9" fill="#f2a822"/><circle cx="50.1" cy="55.0" r="1.5" fill="#d87a10"/><circle cx="10.5" cy="45.8" r="1.2" fill="#f2a822"/><circle cx="59.9" cy="62.2" r="1.9" fill="#fcd040"/><circle cx="68.1" cy="22.9" r="1.3" fill="#f2a822"/><circle cx="24.6" cy="42.0" r="1.2" fill="#d87a10"/><circle cx="72.1" cy="13.8" r="1.8" fill="#ffe060"/><circle cx="17.6" cy="30.9" r="1.6" fill="#e89418"/><circle cx="51.5" cy="60.2" r="1.9" fill="#e89418"/><circle cx="34.9" cy="15.9" r="2.0" fill="#d87a10"/><circle cx="27.8" cy="44.0" r="1.5" fill="#d87a10"/><circle cx="50.9" cy="61.5" r="1.7" fill="#e89418"/><circle cx="65.3" cy="51.8" r="1.2" fill="#d87a10"/><circle cx="6.2" cy="15.8" r="1.1" fill="#ffe060"/><circle cx="14.3" cy="5.1" r="1.3" fill="#f2a822"/><circle cx="48.8" cy="22.9" r="1.1" fill="#e89418"/><circle cx="60.2" cy="36.1" r="1.8" fill="#f8bc30"/><circle cx="74.5" cy="17.4" r="2.0" fill="#e89418"/><circle cx="48.2" cy="41.2" r="1.8" fill="#f2a822"/><circle cx="24.6" cy="59.1" r="1.9" fill="#f2a822"/><circle cx="61.7" cy="55.9" r="1.4" fill="#fcd040"/><circle cx="74.4" cy="61.5" r="1.2" fill="#fcd040"/><circle cx="24.1" cy="24.4" r="1.8" fill="#f8bc30"/><circle cx="17.1" cy="3.2" r="2.0" fill="#ffe060"/><circle cx="32.6" cy="64.0" r="1.3" fill="#d87a10"/><circle cx="73.6" cy="32.4" r="1.2" fill="#ffe060"/><circle cx="67.4" cy="63.6" r="1.3" fill="#f2a822"/><circle cx="26.2" cy="23.9" r="1.4" fill="#d87a10"/><circle cx="24.6" cy="59.0" r="1.3" fill="#fcd040"/><circle cx="63.5" cy="72.8" r="1.4" fill="#b85c06"/><circle cx="63.5" cy="16.4" r="1.7" fill="#e89418"/><circle cx="1.1" cy="32.2" r="1.2" fill="#e89418"/><circle cx="7.7" cy="30.7" r="1.7" fill="#f2a822"/><circle cx="59.3" cy="71.6" r="1.4" fill="#ffe060"/><circle cx="53.1" cy="14.3" r="1.5" fill="#b85c06"/><circle cx="11.6" cy="33.5" r="1.2" fill="#f2a822"/><circle cx="2.8" cy="44.5" r="1.5" fill="#f2a822"/><circle cx="54.4" cy="3.6" r="1.8" fill="#f2a822"/><circle cx="65.8" cy="63.1" r="1.8" fill="#f2a822"/><circle cx="70.5" cy="32.5" r="1.2" fill="#b85c06"/><circle cx="62.0" cy="14.7" r="1.4" fill="#d87a10"/><circle cx="37.2" cy="10.8" r="1.5" fill="#e89418"/><circle cx="62.4" cy="27.5" r="2.0" fill="#ffe060"/><circle cx="25.1" cy="31.4" r="1.5" fill="#d87a10"/><circle cx="76.0" cy="19.0" r="1.5" fill="#e89418"/><circle cx="71.0" cy="65.6" r="1.1" fill="#fcd040"/><circle cx="30.8" cy="54.5" r="1.6" fill="#f2a822"/><circle cx="43.2" cy="71.7" r="1.6" fill="#d87a10"/><circle cx="34.7" cy="3.2" r="1.6" fill="#f2a822"/><circle cx="64.6" cy="30.5" r="1.2" fill="#f2a822"/><circle cx="69.3" cy="65.5" r="1.6" fill="#ffe060"/><circle cx="30.2" cy="47.9" r="1.7" fill="#fcd040"/><circle cx="53.5" cy="19.9" r="1.6" fill="#ffe060"/><circle cx="74.0" cy="29.1" r="1.2" fill="#ffe060"/><circle cx="40.5" cy="59.7" r="2.0" fill="#ffe060"/><circle cx="7.3" cy="39.9" r="1.5" fill="#d87a10"/><circle cx="29.5" cy="7.0" r="2.0" fill="#fcd040"/><circle cx="58.4" cy="66.3" r="2.0" fill="#b85c06"/><circle cx="48.3" cy="35.7" r="1.5" fill="#b85c06"/><circle cx="36.9" cy="50.2" r="1.8" fill="#e89418"/><circle cx="48.9" cy="20.7" r="1.1" fill="#e89418"/><circle cx="33.1" cy="73.3" r="1.8" fill="#d87a10"/><circle cx="39.9" cy="41.9" r="1.4" fill="#f2a822"/><circle cx="7.8" cy="39.4" r="1.4" fill="#f2a822"/><circle cx="5.4" cy="47.4" r="1.2" fill="#d87a10"/><circle cx="64.8" cy="58.5" r="1.7" fill="#d87a10"/><circle cx="62.8" cy="20.4" r="1.5" fill="#d87a10"/><circle cx="65.5" cy="40.6" r="1.3" fill="#fcd040"/><circle cx="62.6" cy="16.1" r="1.2" fill="#ffe060"/><circle cx="18.3" cy="72.2" r="1.7" fill="#ffe060"/><circle cx="30.0" cy="3.9" r="1.7" fill="#fcd040"/><circle cx="26.4" cy="59.4" r="1.3" fill="#f8bc30"/><circle cx="62.3" cy="53.0" r="1.7" fill="#f8bc30"/><circle cx="21.2" cy="23.8" r="1.9" fill="#fcd040"/><circle cx="54.1" cy="67.2" r="1.5" fill="#b85c06"/><circle cx="16.0" cy="37.6" r="1.6" fill="#b85c06"/><circle cx="50.9" cy="23.0" r="1.3" fill="#f2a822"/><circle cx="11.6" cy="0.8" r="2.0" fill="#e89418"/><circle cx="47.5" cy="49.8" r="1.2" fill="#b85c06"/><circle cx="49.7" cy="24.6" r="1.9" fill="#d87a10"/><circle cx="12.4" cy="63.6" r="1.8" fill="#f8bc30"/><circle cx="39.0" cy="73.3" r="1.2" fill="#ffe060"/><circle cx="76.2" cy="9.6" r="1.3" fill="#fcd040"/><circle cx="30.0" cy="58.6" r="1.7" fill="#ffe060"/><circle cx="7.6" cy="44.9" r="1.4" fill="#fcd040"/><circle cx="0.7" cy="40.2" r="1.8" fill="#f2a822"/><circle cx="31.0" cy="7.0" r="1.5" fill="#e89418"/><circle cx="37.9" cy="61.2" r="1.8" fill="#ffe060"/><circle cx="18.5" cy="60.9" r="1.2" fill="#fcd040"/><circle cx="69.8" cy="4.4" r="1.8" fill="#ffe060"/><circle cx="52.8" cy="20.6" r="1.5" fill="#e89418"/><circle cx="-0.6" cy="6.1" r="1.6" fill="#ffe060"/><circle cx="62.0" cy="45.9" r="1.8" fill="#fcd040"/><circle cx="46.9" cy="55.1" r="1.9" fill="#f2a822"/><circle cx="-0.9" cy="44.9" r="1.8" fill="#b85c06"/><circle cx="61.4" cy="5.9" r="1.8" fill="#f2a822"/><circle cx="37.5" cy="53.8" r="1.8" fill="#ffe060"/><circle cx="34.5" cy="7.8" r="1.7" fill="#f2a822"/><circle cx="5.0" cy="19.9" r="1.4" fill="#f8bc30"/><circle cx="48.1" cy="51.7" r="1.9" fill="#f8bc30"/><circle cx="71.8" cy="64.2" r="1.9" fill="#e89418"/><circle cx="25.4" cy="-0.0" r="1.2" fill="#ffe060"/><circle cx="71.9" cy="44.8" r="1.9" fill="#fcd040"/><circle cx="20.2" cy="35.5" r="1.8" fill="#f8bc30"/><circle cx="41.9" cy="21.5" r="1.4" fill="#f2a822"/><circle cx="26.9" cy="4.1" r="2.0" fill="#ffe060"/><circle cx="29.3" cy="69.1" r="1.8" fill="#ffe060"/><circle cx="31.3" cy="71.6" r="1.8" fill="#f8bc30"/><circle cx="18.9" cy="29.9" r="1.4" fill="#f8bc30"/><circle cx="49.5" cy="23.4" r="2.0" fill="#e89418"/><circle cx="7.5" cy="33.9" r="2.0" fill="#fcd040"/><circle cx="18.8" cy="25.3" r="1.5" fill="#b85c06"/><circle cx="48.8" cy="26.3" r="1.1" fill="#f2a822"/><circle cx="1.0" cy="29.8" r="1.3" fill="#ffe060"/><circle cx="47.4" cy="56.9" r="1.7" fill="#b85c06"/><circle cx="2.0" cy="6.1" r="1.7" fill="#d87a10"/><circle cx="24.4" cy="21.9" r="1.3" fill="#f2a822"/><circle cx="58.8" cy="31.8" r="1.7" fill="#ffe060"/><circle cx="23.3" cy="46.6" r="1.4" fill="#fcd040"/><circle cx="54.6" cy="41.6" r="1.1" fill="#d87a10"/><circle cx="0.8" cy="19.0" r="1.2" fill="#ffe060"/><circle cx="68.1" cy="1.4" r="2.0" fill="#f2a822"/><circle cx="56.7" cy="-0.4" r="1.7" fill="#b85c06"/><circle cx="57.8" cy="54.0" r="1.3" fill="#e89418"/><circle cx="2.1" cy="-0.1" r="1.5" fill="#fcd040"/><circle cx="43.3" cy="6.9" r="1.2" fill="#f8bc30"/><circle cx="58.5" cy="45.6" r="1.8" fill="#ffe060"/><circle cx="19.1" cy="11.0" r="1.3" fill="#ffe060"/><circle cx="61.0" cy="46.8" r="1.5" fill="#f8bc30"/><circle cx="1.2" cy="2.6" r="1.1" fill="#b85c06"/><circle cx="66.7" cy="25.1" r="1.9" fill="#f2a822"/><circle cx="77.0" cy="16.8" r="1.9" fill="#b85c06"/><circle cx="49.7" cy="40.9" r="1.9" fill="#b85c06"/><circle cx="56.9" cy="22.1" r="1.7" fill="#b85c06"/><circle cx="76.9" cy="48.3" r="2.0" fill="#fcd040"/><circle cx="1.2" cy="31.2" r="1.3" fill="#d87a10"/><circle cx="72.8" cy="45.2" r="1.9" fill="#ffe060"/><circle cx="69.8" cy="2.2" r="1.6" fill="#f2a822"/><circle cx="75.3" cy="24.4" r="1.1" fill="#ffe060"/><circle cx="2.9" cy="68.8" r="1.7" fill="#fcd040"/><circle cx="7.7" cy="39.0" r="1.6" fill="#b85c06"/><circle cx="14.7" cy="62.5" r="1.4" fill="#f2a822"/><circle cx="28.8" cy="21.7" r="1.7" fill="#d87a10"/><circle cx="64.8" cy="41.0" r="1.6" fill="#b85c06"/><circle cx="5.4" cy="4.9" r="1.8" fill="#f8bc30"/><circle cx="38.7" cy="52.8" r="1.3" fill="#ffe060"/><circle cx="54.1" cy="26.8" r="1.5" fill="#d87a10"/><circle cx="11.3" cy="52.6" r="1.9" fill="#fcd040"/><circle cx="10.0" cy="0.2" r="1.3" fill="#e89418"/><circle cx="8.2" cy="-0.3" r="1.5" fill="#ffe060"/><circle cx="64.4" cy="61.3" r="1.4" fill="#ffe060"/><circle cx="45.5" cy="26.0" r="1.4" fill="#f8bc30"/><circle cx="2.8" cy="34.5" r="1.3" fill="#f8bc30"/><circle cx="28.1" cy="15.3" r="1.8" fill="#f2a822"/><circle cx="52.0" cy="30.2" r="1.1" fill="#f2a822"/><circle cx="47.6" cy="63.7" r="1.1" fill="#b85c06"/><circle cx="41.0" cy="49.8" r="1.2" fill="#d87a10"/><circle cx="46.7" cy="61.3" r="1.5" fill="#fcd040"/><circle cx="21.0" cy="66.5" r="1.1" fill="#f8bc30"/><circle cx="42.5" cy="3.2" r="1.3" fill="#b85c06"/><circle cx="55.3" cy="70.2" r="1.7" fill="#f2a822"/><circle cx="28.3" cy="71.5" r="1.4" fill="#e89418"/><circle cx="76.6" cy="69.4" r="1.2" fill="#ffe060"/><circle cx="44.2" cy="3.8" r="1.9" fill="#b85c06"/><circle cx="74.9" cy="71.1" r="1.9" fill="#f8bc30"/><circle cx="30.5" cy="32.6" r="1.1" fill="#e89418"/><circle cx="75.3" cy="27.3" r="1.9" fill="#e89418"/><circle cx="48.1" cy="40.8" r="1.3" fill="#d87a10"/><circle cx="19.2" cy="61.8" r="1.4" fill="#f8bc30"/><circle cx="14.8" cy="62.1" r="1.8" fill="#ffe060"/><circle cx="-1.0" cy="23.6" r="1.5" fill="#b85c06"/><circle cx="13.8" cy="70.8" r="1.3" fill="#ffe060"/><circle cx="76.4" cy="51.0" r="1.2" fill="#f8bc30"/><circle cx="50.0" cy="15.2" r="1.3" fill="#f2a822"/><circle cx="44.2" cy="9.6" r="1.2" fill="#d87a10"/><circle cx="31.5" cy="26.7" r="1.7" fill="#f2a822"/><circle cx="28.6" cy="71.4" r="1.7" fill="#f2a822"/><circle cx="6.1" cy="20.5" r="1.1" fill="#e89418"/><circle cx="18.1" cy="9.9" r="1.3" fill="#fcd040"/><circle cx="13.1" cy="23.6" r="1.7" fill="#e89418"/><circle cx="28.2" cy="10.8" r="1.3" fill="#fcd040"/><circle cx="19.6" cy="26.2" r="1.5" fill="#ffe060"/><circle cx="67.8" cy="10.2" r="1.6" fill="#fcd040"/><circle cx="9.2" cy="58.0" r="1.4" fill="#d87a10"/><circle cx="-1.0" cy="49.3" r="1.3" fill="#d87a10"/><circle cx="24.8" cy="66.3" r="1.3" fill="#ffe060"/><circle cx="73.2" cy="67.7" r="1.4" fill="#ffe060"/><circle cx="38.1" cy="3.1" r="2.0" fill="#fcd040"/><circle cx="8.0" cy="24.0" r="1.8" fill="#ffe060"/><circle cx="64.3" cy="6.6" r="1.5" fill="#fcd040"/><circle cx="67.8" cy="23.3" r="1.2" fill="#fcd040"/><circle cx="24.2" cy="3.1" r="1.8" fill="#f2a822"/><circle cx="76.2" cy="25.6" r="1.2" fill="#e89418"/><circle cx="53.9" cy="23.6" r="1.9" fill="#e89418"/><circle cx="10.8" cy="40.7" r="1.7" fill="#f2a822"/><circle cx="22.2" cy="11.6" r="1.1" fill="#f8bc30"/><circle cx="68.8" cy="28.6" r="1.2" fill="#d87a10"/><circle cx="18.8" cy="7.0" r="2.0" fill="#b85c06"/><circle cx="14.5" cy="33.2" r="1.2" fill="#fcd040"/><circle cx="69.5" cy="40.3" r="1.3" fill="#fcd040"/><circle cx="56.1" cy="18.3" r="1.6" fill="#fcd040"/><circle cx="21.6" cy="44.2" r="1.5" fill="#ffe060"/><circle cx="32.8" cy="27.0" r="1.7" fill="#ffe060"/><circle cx="20.1" cy="35.9" r="1.6" fill="#f8bc30"/><circle cx="17.5" cy="14.9" r="1.3" fill="#b85c06"/><circle cx="48.5" cy="67.7" r="1.8" fill="#d87a10"/><circle cx="62.3" cy="41.7" r="1.4" fill="#fcd040"/><circle cx="17.6" cy="41.6" r="1.3" fill="#f2a822"/><circle cx="59.5" cy="58.2" r="1.6" fill="#d87a10"/><circle cx="71.8" cy="24.9" r="1.8" fill="#ffe060"/><circle cx="67.4" cy="54.6" r="1.3" fill="#e89418"/><circle cx="61.4" cy="20.0" r="1.8" fill="#ffe060"/><circle cx="70.0" cy="12.6" r="1.1" fill="#f2a822"/><circle cx="37.2" cy="39.5" r="2.0" fill="#fcd040"/><circle cx="49.8" cy="39.0" r="1.3" fill="#f8bc30"/><circle cx="17.7" cy="12.9" r="1.9" fill="#fcd040"/><circle cx="66.0" cy="3.3" r="2.0" fill="#ffe060"/><circle cx="35.8" cy="23.3" r="1.3" fill="#d87a10"/><circle cx="0.9" cy="59.7" r="1.1" fill="#e89418"/><circle cx="31.5" cy="12.8" r="1.5" fill="#f2a822"/><circle cx="36.0" cy="45.1" r="1.1" fill="#ffe060"/><circle cx="18.3" cy="72.1" r="1.2" fill="#f2a822"/><circle cx="48.1" cy="68.8" r="1.6" fill="#d87a10"/><circle cx="52.3" cy="67.2" r="1.2" fill="#f2a822"/><circle cx="70.2" cy="72.4" r="1.7" fill="#ffe060"/><circle cx="2.1" cy="12.8" r="1.9" fill="#e89418"/><circle cx="71.8" cy="60.3" r="1.9" fill="#e89418"/><circle cx="13.3" cy="38.4" r="1.3" fill="#ffe060"/><circle cx="45.1" cy="23.4" r="1.1" fill="#ffe060"/><circle cx="55.6" cy="66.2" r="1.7" fill="#f2a822"/><circle cx="7.0" cy="25.9" r="1.2" fill="#d87a10"/><circle cx="34.1" cy="12.4" r="1.6" fill="#f8bc30"/><circle cx="23.4" cy="28.1" r="1.5" fill="#ffe060"/><circle cx="24.2" cy="63.1" r="1.4" fill="#f8bc30"/><circle cx="19.6" cy="14.8" r="1.2" fill="#e89418"/><circle cx="18.1" cy="47.3" r="1.4" fill="#e89418"/><circle cx="44.8" cy="17.9" r="1.6" fill="#f2a822"/><circle cx="1.4" cy="9.3" r="1.2" fill="#d87a10"/><circle cx="37.6" cy="43.3" r="1.2" fill="#e89418"/><circle cx="65.2" cy="34.6" r="1.1" fill="#f8bc30"/><circle cx="14.2" cy="8.8" r="1.7" fill="#ffe060"/><circle cx="16.4" cy="11.3" r="1.2" fill="#fcd040"/><circle cx="40.9" cy="27.1" r="1.4" fill="#ffe060"/><circle cx="46.8" cy="46.8" r="1.7" fill="#fcd040"/><circle cx="43.7" cy="12.9" r="1.7" fill="#b85c06"/><circle cx="70.0" cy="57.8" r="2.0" fill="#e89418"/><circle cx="58.2" cy="66.1" r="1.9" fill="#ffe060"/><circle cx="73.3" cy="17.8" r="1.2" fill="#f8bc30"/><circle cx="32.7" cy="26.8" r="1.4" fill="#d87a10"/><circle cx="5.1" cy="43.5" r="1.8" fill="#fcd040"/><circle cx="27.3" cy="16.4" r="1.3" fill="#f2a822"/><circle cx="13.6" cy="55.6" r="1.2" fill="#ffe060"/><circle cx="48.2" cy="52.5" r="1.6" fill="#f8bc30"/><circle cx="27.0" cy="13.1" r="1.9" fill="#b85c06"/><circle cx="60.8" cy="58.8" r="1.9" fill="#e89418"/><circle cx="42.9" cy="30.2" r="1.1" fill="#d87a10"/><circle cx="12.6" cy="43.0" r="1.7" fill="#fcd040"/><circle cx="65.9" cy="23.1" r="1.1" fill="#f8bc30"/><circle cx="57.8" cy="28.9" r="1.9" fill="#f8bc30"/><circle cx="26.8" cy="26.5" r="1.7" fill="#fcd040"/><circle cx="37.7" cy="28.7" r="1.3" fill="#f2a822"/><circle cx="8.0" cy="17.1" r="0.6" fill="#fff0a0"/><circle cx="36.4" cy="45.9" r="0.8" fill="#fff0a0"/><circle cx="2.8" cy="19.2" r="0.8" fill="#fff0a0"/><circle cx="34.9" cy="34.4" r="0.6" fill="#fff0a0"/><circle cx="72.4" cy="62.3" r="0.8" fill="#fff0a0"/><circle cx="9.9" cy="45.5" r="0.6" fill="#fff0a0"/><circle cx="16.1" cy="15.2" r="0.6" fill="#fff0a0"/><circle cx="17.6" cy="8.1" r="0.5" fill="#fff0a0"/><circle cx="50.0" cy="19.1" r="0.6" fill="#fff0a0"/><circle cx="51.0" cy="40.9" r="0.6" fill="#fff0a0"/><circle cx="16.6" cy="28.8" r="0.8" fill="#fff0a0"/><circle cx="2.4" cy="24.1" r="0.9" fill="#fff0a0"/><circle cx="14.5" cy="41.1" r="0.6" fill="#fff0a0"/><circle cx="57.2" cy="58.9" r="0.9" fill="#fff0a0"/><circle cx="57.4" cy="18.3" r="0.5" fill="#fff0a0"/><circle cx="62.6" cy="18.2" r="0.5" fill="#fff0a0"/><circle cx="69.2" cy="21.7" r="0.6" fill="#fff0a0"/><circle cx="46.2" cy="4.8" r="0.6" fill="#fff0a0"/><circle cx="42.5" cy="50.8" r="0.7" fill="#fff0a0"/><circle cx="70.3" cy="15.2" r="0.8" fill="#fff0a0"/><circle cx="9.3" cy="7.0" r="0.8" fill="#fff0a0"/><circle cx="65.6" cy="60.7" r="0.9" fill="#fff0a0"/><circle cx="52.0" cy="11.9" r="0.7" fill="#fff0a0"/><circle cx="42.9" cy="17.9" r="0.9" fill="#fff0a0"/><circle cx="31.4" cy="33.8" r="0.8" fill="#fff0a0"/><circle cx="19.1" cy="16.0" r="0.7" fill="#fff0a0"/><circle cx="24.8" cy="44.8" r="0.9" fill="#fff0a0"/><circle cx="14.6" cy="21.4" r="0.8" fill="#fff0a0"/><circle cx="9.4" cy="28.4" r="0.8" fill="#fff0a0"/><circle cx="58.4" cy="37.4" r="0.6" fill="#fff0a0"/><circle cx="54.5" cy="28.6" r="0.9" fill="#fff0a0"/><circle cx="74.9" cy="56.4" r="0.8" fill="#fff0a0"/><circle cx="56.3" cy="65.1" r="0.7" fill="#fff0a0"/><circle cx="53.4" cy="5.0" r="0.5" fill="#fff0a0"/><circle cx="6.7" cy="42.2" r="0.6" fill="#fff0a0"/><circle cx="14.5" cy="53.3" r="0.8" fill="#fff0a0"/><circle cx="12.8" cy="57.7" r="0.7" fill="#fff0a0"/><circle cx="39.7" cy="15.9" r="0.6" fill="#fff0a0"/><circle cx="25.4" cy="7.4" r="0.6" fill="#fff0a0"/><circle cx="52.7" cy="57.6" r="0.7" fill="#fff0a0"/><circle cx="21.1" cy="1.9" r="0.7" fill="#fff0a0"/><circle cx="36.3" cy="27.4" r="0.9" fill="#fff0a0"/><circle cx="37.0" cy="11.8" r="0.9" fill="#fff0a0"/><circle cx="73.7" cy="24.6" r="0.6" fill="#fff0a0"/><circle cx="35.2" cy="5.4" r="0.9" fill="#fff0a0"/><circle cx="17.1" cy="60.1" r="0.5" fill="#fff0a0"/><circle cx="30.3" cy="20.0" r="0.6" fill="#fff0a0"/><circle cx="63.4" cy="59.2" r="0.6" fill="#fff0a0"/><circle cx="56.2" cy="67.0" r="0.7" fill="#fff0a0"/><circle cx="75.1" cy="48.4" r="0.5" fill="#fff0a0"/><circle cx="27.6" cy="10.4" r="0.8" fill="#fff0a0"/><circle cx="9.8" cy="11.4" r="0.6" fill="#fff0a0"/><circle cx="45.1" cy="51.1" r="0.6" fill="#fff0a0"/><circle cx="70.4" cy="50.6" r="0.8" fill="#fff0a0"/><circle cx="51.0" cy="12.9" r="0.8" fill="#fff0a0"/><circle cx="4.4" cy="1.8" r="0.7" fill="#fff0a0"/><circle cx="42.1" cy="50.2" r="0.6" fill="#fff0a0"/><circle cx="28.3" cy="50.2" r="0.9" fill="#fff0a0"/><circle cx="62.7" cy="7.5" r="0.6" fill="#fff0a0"/><circle cx="11.3" cy="38.2" r="0.8" fill="#fff0a0"/>
<text x="55" y="64" font-size="5" font-weight="bold" fill="#fff" font-family="Liberation Sans">1μm</text>
<rect x="56" y="66" width="8" height="1" fill="#fff"/>
</svg>
<!-- cycles chart -->
<svg class="a" style="left:440px;top:290px" width="100" height="82" viewBox="440 290 100 82">
<rect x="458.7" y="300" width="72.3" height="57.2" fill="#fbfbfc"/>
<g opacity=".75">
<rect x="465" y="300" width="6.2" height="57.2" fill="#f0dfb8"/><rect x="471.2" y="300" width="6.2" height="57.2" fill="#b9dcf2"/><rect x="477.4" y="300" width="6" height="57.2" fill="#d8ecf8"/>
<rect x="487.3" y="300" width="6.2" height="57.2" fill="#f0dfb8"/><rect x="493.5" y="300" width="6.2" height="57.2" fill="#b9dcf2"/><rect x="499.7" y="300" width="6.2" height="57.2" fill="#d8ecf8"/>
<rect x="512" y="300" width="6.2" height="57.2" fill="#f0dfb8"/><rect x="518.2" y="300" width="6.2" height="57.2" fill="#b9dcf2"/><rect x="524.4" y="300" width="6.6" height="57.2" fill="#d8ecf8"/>
</g>
<rect x="458.7" y="300" width="72.3" height="57.2" fill="none" stroke="#666" stroke-width=".5"/>
<path d="M459 313 L464 338 L470 341 L476.5 329 L482.5 314 L488 342 L494.5 344 L500 323 L506 314 L512 345 L518 346 L524 333 L531 315" fill="none" stroke="#222" stroke-width=".6"/>
<path d="M459 328 L464 341 L470 343 L476.5 337 L482.5 332 L488 344 L494.5 345 L500 336 L506 333 L512 346 L518 347 L524 340 L531 338" fill="none" stroke="#e03030" stroke-width=".6"/>
<g fill="#222"><circle cx="459" cy="313" r=".7"/><circle cx="464" cy="338" r=".7"/><circle cx="470" cy="341" r=".7"/><circle cx="476.5" cy="329" r=".7"/><circle cx="482.5" cy="314" r=".7"/><circle cx="488" cy="342" r=".7"/><circle cx="494.5" cy="344" r=".7"/><circle cx="500" cy="323" r=".7"/><circle cx="506" cy="314" r=".7"/><circle cx="512" cy="345" r=".7"/><circle cx="518" cy="346" r=".7"/><circle cx="524" cy="333" r=".7"/><circle cx="531" cy="315" r=".7"/></g>
<g font-size="2.6" font-family="Liberation Sans" fill="#444"><text x="469" y="362">1st</text><text x="492" y="362">2nd</text><text x="515" y="362">3rd</text><text x="490" y="367" font-size="3">Cycles</text></g>
<text transform="translate(452,345) rotate(-90)" font-size="3" fill="#444" font-family="Liberation Sans">Solar Modulation Ability(%)</text>
<text transform="translate(537,345) rotate(-90)" font-size="3" fill="#e03030" font-family="Liberation Sans">Luminous Transmittance(%)</text>
</svg>
<!-- oscillation -->
<svg class="a" style="left:567px;top:305px" width="66" height="54" viewBox="567 305 66 54">

<rect x="574.5" y="306.2" width="57.3" height="46.1" fill="none" stroke="#888" stroke-width=".5"/>
<path d="M575 337 L576.5 320 L578 345 L579.8 317 L581.6 344 L583.4 316 L585.2 343 L587 316 L588.8 344 L590.6 315 L592.4 343 L594.2 315 L596 344 L597.8 314 L599.6 343 L601.4 314 L603.2 344 L605 315 L606.8 343 L608.6 314 L610.4 344 L612.2 315 L614 342 L615.8 315 L617.6 343 L619.4 316 L621.2 342 L623 316 L624.8 343 L626.6 317 L628.4 342 L630.2 317 L631.6 340" fill="none" stroke="#555" stroke-width=".35"/>
<text x="596" y="357.5" font-size="2.6" fill="#555" font-family="Liberation Sans">Cycles</text>
<text transform="translate(571,342) rotate(-90)" font-size="2.6" fill="#555" font-family="Liberation Sans">Solar Modulation Ability(%)</text>
</svg>
<div class="a cap" style="left:526px;top:370px;font-size:9px;letter-spacing:-0.5px">YOH/VO<span style="font-size:6px">2</span>复合薄膜的光学态调控</div>
<!-- mechanism big image -->
<svg class="a" style="left:445px;top:385px" width="285" height="155" viewBox="445 385 285 155">
<rect x="449" y="389.5" width="275" height="147" fill="#f8fafc"/>
<rect x="449" y="389.5" width="92" height="64.5" fill="#fff"/><rect x="450.4" y="456" width="91.6" height="80" fill="#fff"/><rect x="545" y="389.5" width="179" height="147" fill="#fff"/>
<rect x="462.5" y="392.4" width="35" height="23.8" fill="none" stroke="#555" stroke-width=".5"/>
<path d="M462.5 397.2 L467.8 399.5 L471.2 400.7 L476.5 400.7 L481.8 399.5 L485.2 405.5 L488.8 409.1 L492.2 411.4 L497.5 413.8" fill="none" stroke="#3a58b0" stroke-width=".7"/>
<text x="480.5" y="397.4" font-size="2.8" fill="#333" font-family="Liberation Sans">Y4H4O</text>
<rect x="501" y="392.4" width="35" height="23.8" fill="none" stroke="#555" stroke-width=".5"/>
<path d="M501.0 394.8 L508.0 398.3 L513.2 399.5 L518.5 403.1 L523.8 405.5 L529.0 411.4 L532.5 412.6 L536.0 411.4" fill="none" stroke="#3a58b0" stroke-width=".7"/>
<text x="519" y="397.4" font-size="2.8" fill="#333" font-family="Liberation Sans">Y4H4O</text>
<rect x="462.5" y="419" width="35" height="23.8" fill="none" stroke="#555" stroke-width=".5"/>
<path d="M462.5 422.6 L466.0 426.1 L469.5 429.7 L473.0 430.9 L474.8 436.9 L478.2 439.2 L483.5 440.4 L490.5 439.9 L494.0 439.2 L497.5 441.6" fill="none" stroke="#3a58b0" stroke-width=".7"/>
<text x="480.5" y="424" font-size="2.8" fill="#333" font-family="Liberation Sans">Y4H4O</text>
<rect x="501" y="419" width="35" height="23.8" fill="none" stroke="#555" stroke-width=".5"/>
<path d="M501.0 421.4 L506.2 421.4 L513.2 422.6 L516.8 428.5 L520.2 440.4 L523.8 439.2 L527.2 436.9 L530.8 426.1 L536.0 424.9" fill="none" stroke="#3a58b0" stroke-width=".7"/>
<text x="519" y="424" font-size="2.8" fill="#333" font-family="Liberation Sans">Y4H4O</text>
<g font-size="2.4" fill="#555" font-family="Liberation Sans"><text x="472" y="451">Time (fs)</text><text x="511" y="451">Time (fs)</text></g><text x="458.0" y="393.4" font-size="2.2" fill="#555" font-family="Liberation Sans">1.6</text><text x="458.0" y="399.0" font-size="2.2" fill="#555" font-family="Liberation Sans">1.2</text><text x="458.0" y="404.6" font-size="2.2" fill="#555" font-family="Liberation Sans">0.8</text><text x="458.0" y="410.2" font-size="2.2" fill="#555" font-family="Liberation Sans">0.4</text><text x="458.0" y="415.8" font-size="2.2" fill="#555" font-family="Liberation Sans">0.0</text><text transform="translate(456.0,412.4) rotate(-90)" font-size="2.2" fill="#555" font-family="Liberation Sans">Energy gap (eV)</text><text x="458.0" y="420.0" font-size="2.2" fill="#555" font-family="Liberation Sans">1.6</text><text x="458.0" y="425.6" font-size="2.2" fill="#555" font-family="Liberation Sans">1.2</text><text x="458.0" y="431.2" font-size="2.2" fill="#555" font-family="Liberation Sans">0.8</text><text x="458.0" y="436.8" font-size="2.2" fill="#555" font-family="Liberation Sans">0.4</text><text x="458.0" y="442.4" font-size="2.2" fill="#555" font-family="Liberation Sans">0.0</text><text transform="translate(456.0,439) rotate(-90)" font-size="2.2" fill="#555" font-family="Liberation Sans">Energy gap (eV)</text><text x="462.0" y="446.5" font-size="2.2" fill="#555" font-family="Liberation Sans">0</text><text x="468.6" y="446.5" font-size="2.2" fill="#555" font-family="Liberation Sans">30</text><text x="475.2" y="446.5" font-size="2.2" fill="#555" font-family="Liberation Sans">60</text><text x="481.8" y="446.5" font-size="2.2" fill="#555" font-family="Liberation Sans">90</text><text x="488.4" y="446.5" font-size="2.2" fill="#555" font-family="Liberation Sans">120</text><text x="495.0" y="446.5" font-size="2.2" fill="#555" font-family="Liberation Sans">150</text><text x="500.5" y="446.5" font-size="2.2" fill="#555" font-family="Liberation Sans">0</text><text x="507.1" y="446.5" font-size="2.2" fill="#555" font-family="Liberation Sans">30</text><text x="513.7" y="446.5" font-size="2.2" fill="#555" font-family="Liberation Sans">60</text><text x="520.3" y="446.5" font-size="2.2" fill="#555" font-family="Liberation Sans">90</text><text x="526.9" y="446.5" font-size="2.2" fill="#555" font-family="Liberation Sans">120</text><text x="533.5" y="446.5" font-size="2.2" fill="#555" font-family="Liberation Sans">150</text>
<g stroke="#5070b0" stroke-width=".35" fill="none"><rect x="457.6" y="461.9" width="5.7" height="4.6" rx=".8"/><path d="M458.2 462.5 L462.6 465.9 M462.6 462.5 L458.2 465.9" stroke="#8aa0d0"/><rect x="457.6" y="467.3" width="5.7" height="4.6" rx=".8"/><path d="M458.2 467.9 L462.6 471.4 M462.6 467.9 L458.2 471.4" stroke="#8aa0d0"/><rect x="457.6" y="472.8" width="5.7" height="4.6" rx=".8"/><path d="M458.2 473.4 L462.6 476.8 M462.6 473.4 L458.2 476.8" stroke="#8aa0d0"/><rect x="457.6" y="478.2" width="5.7" height="4.6" rx=".8"/><path d="M458.2 478.8 L462.6 482.2 M462.6 478.8 L458.2 482.2" stroke="#8aa0d0"/><rect x="464.0" y="461.9" width="5.7" height="4.6" rx=".8"/><path d="M464.6 462.5 L469.1 465.9 M469.1 462.5 L464.6 465.9" stroke="#8aa0d0"/><rect x="464.0" y="467.3" width="5.7" height="4.6" rx=".8"/><path d="M464.6 467.9 L469.1 471.4 M469.1 467.9 L464.6 471.4" stroke="#8aa0d0"/><rect x="464.0" y="472.8" width="5.7" height="4.6" rx=".8"/><path d="M464.6 473.4 L469.1 476.8 M469.1 473.4 L464.6 476.8" stroke="#8aa0d0"/><rect x="464.0" y="478.2" width="5.7" height="4.6" rx=".8"/><path d="M464.6 478.8 L469.1 482.2 M469.1 478.8 L464.6 482.2" stroke="#8aa0d0"/><rect x="470.5" y="461.9" width="5.7" height="4.6" rx=".8"/><path d="M471.1 462.5 L475.5 465.9 M475.5 462.5 L471.1 465.9" stroke="#8aa0d0"/><rect x="470.5" y="467.3" width="5.7" height="4.6" rx=".8"/><path d="M471.1 467.9 L475.5 471.4 M475.5 467.9 L471.1 471.4" stroke="#8aa0d0"/><rect x="470.5" y="472.8" width="5.7" height="4.6" rx=".8"/><path d="M471.1 473.4 L475.5 476.8 M475.5 473.4 L471.1 476.8" stroke="#8aa0d0"/><rect x="470.5" y="478.2" width="5.7" height="4.6" rx=".8"/><path d="M471.1 478.8 L475.5 482.2 M475.5 478.8 L471.1 482.2" stroke="#8aa0d0"/><rect x="476.9" y="461.9" width="5.7" height="4.6" rx=".8"/><path d="M477.6 462.5 L482.0 465.9 M482.0 462.5 L477.6 465.9" stroke="#8aa0d0"/><rect x="476.9" y="467.3" width="5.7" height="4.6" rx=".8"/><path d="M477.6 467.9 L482.0 471.4 M482.0 467.9 L477.6 471.4" stroke="#8aa0d0"/><rect x="476.9" y="472.8" width="5.7" height="4.6" rx=".8"/><path d="M477.6 473.4 L482.0 476.8 M482.0 473.4 L477.6 476.8" stroke="#8aa0d0"/><rect x="476.9" y="478.2" width="5.7" height="4.6" rx=".8"/><path d="M477.6 478.8 L482.0 482.2 M482.0 478.8 L477.6 482.2" stroke="#8aa0d0"/></g><circle cx="479.8" cy="480.5" r=".9" fill="#d03030"/><circle cx="479.8" cy="469.6" r=".9" fill="#d03030"/><circle cx="466.9" cy="480.5" r=".9" fill="#d03030"/>
<g stroke="#5070b0" stroke-width=".35" fill="none"><rect x="510.4" y="461.9" width="6.2" height="4.6" rx=".8"/><path d="M511.0 462.5 L516.0 465.9 M516.0 462.5 L511.0 465.9" stroke="#8aa0d0"/><rect x="510.4" y="467.3" width="6.2" height="4.6" rx=".8"/><path d="M511.0 467.9 L516.0 471.4 M516.0 467.9 L511.0 471.4" stroke="#8aa0d0"/><rect x="510.4" y="472.8" width="6.2" height="4.6" rx=".8"/><path d="M511.0 473.4 L516.0 476.8 M516.0 473.4 L511.0 476.8" stroke="#8aa0d0"/><rect x="510.4" y="478.2" width="6.2" height="4.6" rx=".8"/><path d="M511.0 478.8 L516.0 482.2 M516.0 478.8 L511.0 482.2" stroke="#8aa0d0"/><rect x="517.4" y="461.9" width="6.2" height="4.6" rx=".8"/><path d="M518.0 462.5 L523.0 465.9 M523.0 462.5 L518.0 465.9" stroke="#8aa0d0"/><rect x="517.4" y="467.3" width="6.2" height="4.6" rx=".8"/><path d="M518.0 467.9 L523.0 471.4 M523.0 467.9 L518.0 471.4" stroke="#8aa0d0"/><rect x="517.4" y="472.8" width="6.2" height="4.6" rx=".8"/><path d="M518.0 473.4 L523.0 476.8 M523.0 473.4 L518.0 476.8" stroke="#8aa0d0"/><rect x="517.4" y="478.2" width="6.2" height="4.6" rx=".8"/><path d="M518.0 478.8 L523.0 482.2 M523.0 478.8 L518.0 482.2" stroke="#8aa0d0"/><rect x="524.4" y="461.9" width="6.2" height="4.6" rx=".8"/><path d="M525.0 462.5 L530.0 465.9 M530.0 462.5 L525.0 465.9" stroke="#8aa0d0"/><rect x="524.4" y="467.3" width="6.2" height="4.6" rx=".8"/><path d="M525.0 467.9 L530.0 471.4 M530.0 467.9 L525.0 471.4" stroke="#8aa0d0"/><rect x="524.4" y="472.8" width="6.2" height="4.6" rx=".8"/><path d="M525.0 473.4 L530.0 476.8 M530.0 473.4 L525.0 476.8" stroke="#8aa0d0"/><rect x="524.4" y="478.2" width="6.2" height="4.6" rx=".8"/><path d="M525.0 478.8 L530.0 482.2 M530.0 478.8 L525.0 482.2" stroke="#8aa0d0"/><rect x="531.4" y="461.9" width="6.2" height="4.6" rx=".8"/><path d="M532.0 462.5 L537.0 465.9 M537.0 462.5 L532.0 465.9" stroke="#8aa0d0"/><rect x="531.4" y="467.3" width="6.2" height="4.6" rx=".8"/><path d="M532.0 467.9 L537.0 471.4 M537.0 467.9 L532.0 471.4" stroke="#8aa0d0"/><rect x="531.4" y="472.8" width="6.2" height="4.6" rx=".8"/><path d="M532.0 473.4 L537.0 476.8 M537.0 473.4 L532.0 476.8" stroke="#8aa0d0"/><rect x="531.4" y="478.2" width="6.2" height="4.6" rx=".8"/><path d="M532.0 478.8 L537.0 482.2 M537.0 478.8 L532.0 482.2" stroke="#8aa0d0"/></g><circle cx="520.5" cy="464.2" r=".9" fill="#d03030"/><circle cx="534.5" cy="475.1" r=".9" fill="#d03030"/><circle cx="520.5" cy="464.2" r=".9" fill="#d03030"/>
<path d="M490.5 478.5 L502 478.5" stroke="#aaa" stroke-width="1.6"/><text x="490" y="472" font-size="2.4" fill="#444" font-family="Liberation Sans">Hydrogen</text><text x="491" y="475" font-size="2.4" fill="#444" font-family="Liberation Sans">diffusion</text>
<path d="M451 517.5 L455.9 517.2 L464.7 515.8 L472.8 513.5 L481 511 L489.8 497.5 L498.6 494.1 L506.7 497.5 L515.6 499.5 L520 499.5" fill="none" stroke="#222" stroke-width=".5"/>
<path d="M455.9 494 L455.9 517" stroke="#222" stroke-width=".4"/><text x="458" y="507" font-size="2.4" fill="#333" font-family="Liberation Sans">1.25 eV</text><text x="520" y="498" font-size="2.4" fill="#333" font-family="Liberation Sans">0.28 eV</text><text x="494" y="500" font-size="2.2" fill="#333" font-family="Liberation Sans">Transition</text>
<circle cx="455.9" cy="517.2" r=".6" fill="#222"/>
<circle cx="464.7" cy="515.8" r=".6" fill="#222"/>
<circle cx="472.8" cy="513.5" r=".6" fill="#222"/>
<circle cx="481" cy="511" r=".6" fill="#222"/>
<circle cx="489.8" cy="497.5" r=".6" fill="#222"/>
<circle cx="498.6" cy="494.1" r=".6" fill="#222"/>
<circle cx="506.7" cy="497.5" r=".6" fill="#222"/>
<circle cx="515.6" cy="499.5" r=".6" fill="#222"/>
<g stroke="#666" stroke-width=".35" fill="none"><circle cx="463" cy="528" r="3"/><path d="M460 525 L466 531"/></g>
<g stroke="#666" stroke-width=".35" fill="none"><circle cx="497" cy="528" r="3"/><path d="M494 525 L500 531"/></g>
<g stroke="#666" stroke-width=".35" fill="none"><circle cx="529" cy="528" r="3"/><path d="M526 525 L532 531"/></g>
<path d="M477 528 L485 528 M509 528 L517 528" stroke="#aaa" stroke-width="1.3"/>
<defs><clipPath id="lc00"><rect x="608.3" y="395.1" width="32.5" height="34.099999999999966"/></clipPath><clipPath id="lc01"><rect x="645.4" y="395.1" width="32.5" height="34.099999999999966"/></clipPath><clipPath id="lc02"><rect x="682.8" y="395.1" width="32.5" height="34.099999999999966"/></clipPath><clipPath id="lc10"><rect x="608.3" y="441.4" width="32.5" height="34.80000000000001"/></clipPath><clipPath id="lc11"><rect x="645.4" y="441.4" width="32.5" height="34.80000000000001"/></clipPath><clipPath id="lc12"><rect x="682.8" y="441.4" width="32.5" height="34.80000000000001"/></clipPath><clipPath id="lc20"><rect x="608.3" y="491.9" width="32.5" height="35.30000000000007"/></clipPath><clipPath id="lc21"><rect x="645.4" y="491.9" width="32.5" height="35.30000000000007"/></clipPath><clipPath id="lc22"><rect x="682.8" y="491.9" width="32.5" height="35.30000000000007"/></clipPath></defs>
<rect x="557" y="394.1" width="47" height="34.099999999999966" fill="#fff" stroke="#888" stroke-width=".5"/>
<path d="M557.0 402.2 L558.6 402.2 L560.1 402.5 L561.7 402.2 L563.3 402.2 L564.8 402.3 L566.4 401.9 L568.0 402.2 L569.5 402.3 L571.1 402.4 L572.7 401.9 L574.2 402.0 L575.8 401.9 L577.4 402.4 L578.9 402.4 L580.5 401.8 L582.1 402.6 L583.6 402.6 L585.2 402.3 L586.8 402.3 L588.3 401.9 L589.9 401.8 L591.5 402.2 L593.0 401.8 L594.6 402.0 L596.2 402.0 L597.7 401.8 L599.3 402.2 L600.9 402.2 L602.4 402.5 L604.0 402.2" fill="none" stroke="#2a6ab8" stroke-width="1"/>
<path d="M557.0 421.8 L558.1 421.6 L559.3 421.8 L560.4 421.5 L561.6 421.3 L562.7 422.2 L563.9 422.2 L565.0 422.0 L566.1 421.8 L567.3 421.4 L568.4 421.3 L569.6 421.3 L570.7 421.1 L571.9 421.9 L573.0 421.5" fill="none" stroke="#e05a30" stroke-width="1"/><path d="M573.0 405.3 L574.1 404.2 L575.2 405.6 L576.3 405.3 L577.3 403.3 L578.4 403.8 L579.5 405.5 L580.6 404.4 L581.7 405.7 L582.8 404.3 L583.9 403.5 L584.9 404.8 L586.0 405.2 L587.1 403.9 L588.2 403.5" fill="none" stroke="#e05a30" stroke-width="1"/><path d="M588.2 421.3 L589.5 422.3 L590.8 422.0 L592.2 421.0 L593.5 421.2 L594.8 421.0 L596.1 420.9 L597.4 422.1 L598.7 421.1 L600.0 421.7 L601.4 421.5 L602.7 421.1 L604.0 422.0" fill="none" stroke="#e05a30" stroke-width="1"/>
<path d="M573 421.6 L573 404 M588.2 404 L588.2 421.6" stroke="#e05a30" stroke-width=".6"/>
<text x="574" y="399.1" font-size="2.8" fill="#333" font-family="Liberation Sans">Y4H4O</text>
<g font-size="2.6" fill="#555" font-family="Liberation Sans"><text x="551.5" y="396.1">5.5</text><text x="551.5" y="404.1">4.5</text><text x="551.5" y="412.1">3.5</text><text x="551.5" y="420.1">2.5</text><text x="571" y="436.2">Time (ps)</text><text x="557" y="431.7">-5</text><text x="571" y="431.7">0</text><text x="587" y="431.7">5</text><text x="601" y="431.7">10</text></g>
<text transform="translate(548.5,416.1) rotate(-90)" font-size="2.6" fill="#555" font-family="Liberation Sans">Energy (eV)</text>
<g clip-path="url(#lc00)"><rect x="608.3" y="395.1" width="32.5" height="33.099999999999966" fill="#fff" stroke="#9aaacc" stroke-width=".4"/><g stroke="#6a86c0" stroke-width=".45" opacity=".8"><path d="M583.9 395.1 L617.0 428.2"/><path d="M592.0 395.1 L625.1 428.2"/><path d="M600.2 395.1 L633.3 428.2"/><path d="M608.3 395.1 L641.4 428.2"/><path d="M616.4 395.1 L649.5 428.2"/><path d="M624.5 395.1 L657.6 428.2"/><path d="M632.7 395.1 L665.8 428.2"/><path d="M640.8 395.1 L673.9 428.2"/></g><g stroke="#8aa0d0" stroke-width=".35" opacity=".7"><path d="M608.3 395.1 L575.2 428.2"/><path d="M616.4 395.1 L583.3 428.2"/><path d="M624.5 395.1 L591.5 428.2"/><path d="M632.7 395.1 L599.6 428.2"/><path d="M640.8 395.1 L607.7 428.2"/><path d="M648.9 395.1 L615.8 428.2"/><path d="M657.0 395.1 L624.0 428.2"/><path d="M665.2 395.1 L632.1 428.2"/></g><g fill="none" stroke="#9ab0d8" stroke-width=".35"><circle cx="612.4" cy="399.2" r="2.8"/><circle cx="612.4" cy="407.5" r="2.8"/><circle cx="612.4" cy="415.8" r="2.8"/><circle cx="612.4" cy="424.1" r="2.8"/><circle cx="620.5" cy="399.2" r="2.8"/><circle cx="620.5" cy="407.5" r="2.8"/><circle cx="620.5" cy="415.8" r="2.8"/><circle cx="620.5" cy="424.1" r="2.8"/><circle cx="628.6" cy="399.2" r="2.8"/><circle cx="628.6" cy="407.5" r="2.8"/><circle cx="628.6" cy="415.8" r="2.8"/><circle cx="628.6" cy="424.1" r="2.8"/><circle cx="636.7" cy="399.2" r="2.8"/><circle cx="636.7" cy="407.5" r="2.8"/><circle cx="636.7" cy="415.8" r="2.8"/><circle cx="636.7" cy="424.1" r="2.8"/></g><path d="M613.8 414.3 L616.2 416.7" stroke="#d03030" stroke-width="1.1"/></g>
<text x="609.3" y="394.1" font-size="2.6" fill="#333" font-family="Liberation Sans">0 ps</text>
<g clip-path="url(#lc01)"><rect x="645.4" y="395.1" width="32.5" height="33.099999999999966" fill="#fff" stroke="#9aaacc" stroke-width=".4"/><g stroke="#6a86c0" stroke-width=".45" opacity=".8"><path d="M621.0 395.1 L654.1 428.2"/><path d="M629.1 395.1 L662.2 428.2"/><path d="M637.3 395.1 L670.4 428.2"/><path d="M645.4 395.1 L678.5 428.2"/><path d="M653.5 395.1 L686.6 428.2"/><path d="M661.6 395.1 L694.8 428.2"/><path d="M669.8 395.1 L702.9 428.2"/><path d="M677.9 395.1 L711.0 428.2"/></g><g stroke="#8aa0d0" stroke-width=".35" opacity=".7"><path d="M645.4 395.1 L612.3 428.2"/><path d="M653.5 395.1 L620.4 428.2"/><path d="M661.6 395.1 L628.5 428.2"/><path d="M669.8 395.1 L636.7 428.2"/><path d="M677.9 395.1 L644.8 428.2"/><path d="M686.0 395.1 L652.9 428.2"/><path d="M694.1 395.1 L661.0 428.2"/><path d="M702.3 395.1 L669.2 428.2"/></g><g fill="none" stroke="#9ab0d8" stroke-width=".35"><circle cx="649.5" cy="399.2" r="2.8"/><circle cx="649.5" cy="407.5" r="2.8"/><circle cx="649.5" cy="415.8" r="2.8"/><circle cx="649.5" cy="424.1" r="2.8"/><circle cx="657.6" cy="399.2" r="2.8"/><circle cx="657.6" cy="407.5" r="2.8"/><circle cx="657.6" cy="415.8" r="2.8"/><circle cx="657.6" cy="424.1" r="2.8"/><circle cx="665.7" cy="399.2" r="2.8"/><circle cx="665.7" cy="407.5" r="2.8"/><circle cx="665.7" cy="415.8" r="2.8"/><circle cx="665.7" cy="424.1" r="2.8"/><circle cx="673.8" cy="399.2" r="2.8"/><circle cx="673.8" cy="407.5" r="2.8"/><circle cx="673.8" cy="415.8" r="2.8"/><circle cx="673.8" cy="424.1" r="2.8"/></g><path d="M650.5 408.4 L652.9 410.8" stroke="#d03030" stroke-width="1.1"/></g>
<text x="646.4" y="394.1" font-size="2.6" fill="#333" font-family="Liberation Sans">5 ps</text>
<g clip-path="url(#lc02)"><rect x="682.8" y="395.1" width="32.5" height="33.099999999999966" fill="#fff" stroke="#9aaacc" stroke-width=".4"/><g stroke="#6a86c0" stroke-width=".45" opacity=".8"><path d="M658.4 395.1 L691.5 428.2"/><path d="M666.5 395.1 L699.6 428.2"/><path d="M674.7 395.1 L707.8 428.2"/><path d="M682.8 395.1 L715.9 428.2"/><path d="M690.9 395.1 L724.0 428.2"/><path d="M699.0 395.1 L732.1 428.2"/><path d="M707.2 395.1 L740.3 428.2"/><path d="M715.3 395.1 L748.4 428.2"/></g><g stroke="#8aa0d0" stroke-width=".35" opacity=".7"><path d="M682.8 395.1 L649.7 428.2"/><path d="M690.9 395.1 L657.8 428.2"/><path d="M699.0 395.1 L666.0 428.2"/><path d="M707.2 395.1 L674.1 428.2"/><path d="M715.3 395.1 L682.2 428.2"/><path d="M723.4 395.1 L690.3 428.2"/><path d="M731.5 395.1 L698.5 428.2"/><path d="M739.7 395.1 L706.6 428.2"/></g><g fill="none" stroke="#9ab0d8" stroke-width=".35"><circle cx="686.9" cy="399.2" r="2.8"/><circle cx="686.9" cy="407.5" r="2.8"/><circle cx="686.9" cy="415.8" r="2.8"/><circle cx="686.9" cy="424.1" r="2.8"/><circle cx="695.0" cy="399.2" r="2.8"/><circle cx="695.0" cy="407.5" r="2.8"/><circle cx="695.0" cy="415.8" r="2.8"/><circle cx="695.0" cy="424.1" r="2.8"/><circle cx="703.1" cy="399.2" r="2.8"/><circle cx="703.1" cy="407.5" r="2.8"/><circle cx="703.1" cy="415.8" r="2.8"/><circle cx="703.1" cy="424.1" r="2.8"/><circle cx="711.2" cy="399.2" r="2.8"/><circle cx="711.2" cy="407.5" r="2.8"/><circle cx="711.2" cy="415.8" r="2.8"/><circle cx="711.2" cy="424.1" r="2.8"/></g><path d="M690.4 404.4 L692.8 406.8" stroke="#d03030" stroke-width="1.1"/></g>
<text x="683.8" y="394.1" font-size="2.6" fill="#333" font-family="Liberation Sans">10 ps</text>
<rect x="557" y="440.4" width="47" height="34.80000000000001" fill="#fff" stroke="#888" stroke-width=".5"/>
<path d="M557.0 450.5 L558.6 450.3 L560.1 449.9 L561.7 450.4 L563.3 449.9 L564.8 450.0 L566.4 450.4 L568.0 450.2 L569.5 449.8 L571.1 450.5 L572.7 449.9 L574.2 449.9 L575.8 450.3 L577.4 450.0 L578.9 449.9 L580.5 449.8 L582.1 449.8 L583.6 450.2 L585.2 449.9 L586.8 450.2 L588.3 450.0 L589.9 450.1 L591.5 450.5 L593.0 450.1 L594.6 450.2 L596.2 450.4 L597.7 449.8 L599.3 449.8 L600.9 450.4 L602.4 450.4 L604.0 449.9" fill="none" stroke="#2a6ab8" stroke-width="1"/>
<path d="M557.0 467.8 L558.1 468.5 L559.2 468.7 L560.3 467.8 L561.5 468.7 L562.6 468.7 L563.7 468.3 L564.8 468.1 L565.9 467.7 L567.0 467.6 L568.1 468.8 L569.3 467.9 L570.4 468.4 L571.5 467.9 L572.6 468.6" fill="none" stroke="#e05a30" stroke-width="1"/><path d="M572.6 452.1 L573.9 451.8 L575.1 451.7 L576.4 452.2 L577.6 451.6 L578.9 451.7 L580.1 452.1 L581.4 452.4 L582.6 452.1 L583.9 451.8 L585.2 452.4 L586.4 451.7 L587.7 451.5 L588.9 451.8 L590.2 451.9 L591.4 451.6 L592.7 451.7 L593.9 451.9 L595.2 452.1" fill="none" stroke="#e05a30" stroke-width="1"/><path d="M595.2 467.8 L596.3 468.0 L597.4 468.7 L598.5 468.8 L599.6 468.4 L600.7 468.4 L601.8 468.3 L602.9 467.8 L604.0 467.6" fill="none" stroke="#e05a30" stroke-width="1"/>
<path d="M572.6 468.2 L572.6 452 M595.2 452 L595.2 468.2" stroke="#e05a30" stroke-width=".6"/>
<text x="574" y="445.4" font-size="2.8" fill="#333" font-family="Liberation Sans">Y4H4O</text>
<g font-size="2.6" fill="#555" font-family="Liberation Sans"><text x="551.5" y="442.4">5.5</text><text x="551.5" y="450.4">4.5</text><text x="551.5" y="458.4">3.5</text><text x="551.5" y="466.4">2.5</text><text x="571" y="483.2">Time (ps)</text><text x="557" y="478.7">-5</text><text x="571" y="478.7">0</text><text x="587" y="478.7">5</text><text x="601" y="478.7">10</text></g>
<text transform="translate(548.5,462.4) rotate(-90)" font-size="2.6" fill="#555" font-family="Liberation Sans">Energy (eV)</text>
<g clip-path="url(#lc10)"><rect x="608.3" y="441.4" width="32.5" height="33.80000000000001" fill="#fff" stroke="#9aaacc" stroke-width=".4"/><g stroke="#6a86c0" stroke-width=".45" opacity=".8"><path d="M583.9 441.4 L617.7 475.2"/><path d="M592.0 441.4 L625.8 475.2"/><path d="M600.2 441.4 L634.0 475.2"/><path d="M608.3 441.4 L642.1 475.2"/><path d="M616.4 441.4 L650.2 475.2"/><path d="M624.5 441.4 L658.3 475.2"/><path d="M632.7 441.4 L666.5 475.2"/><path d="M640.8 441.4 L674.6 475.2"/></g><g stroke="#8aa0d0" stroke-width=".35" opacity=".7"><path d="M608.3 441.4 L574.5 475.2"/><path d="M616.4 441.4 L582.6 475.2"/><path d="M624.5 441.4 L590.8 475.2"/><path d="M632.7 441.4 L598.9 475.2"/><path d="M640.8 441.4 L607.0 475.2"/><path d="M648.9 441.4 L615.1 475.2"/><path d="M657.0 441.4 L623.2 475.2"/><path d="M665.2 441.4 L631.4 475.2"/></g><g fill="none" stroke="#9ab0d8" stroke-width=".35"><circle cx="612.4" cy="445.6" r="2.8"/><circle cx="612.4" cy="454.1" r="2.8"/><circle cx="612.4" cy="462.5" r="2.8"/><circle cx="612.4" cy="471.0" r="2.8"/><circle cx="620.5" cy="445.6" r="2.8"/><circle cx="620.5" cy="454.1" r="2.8"/><circle cx="620.5" cy="462.5" r="2.8"/><circle cx="620.5" cy="471.0" r="2.8"/><circle cx="628.6" cy="445.6" r="2.8"/><circle cx="628.6" cy="454.1" r="2.8"/><circle cx="628.6" cy="462.5" r="2.8"/><circle cx="628.6" cy="471.0" r="2.8"/><circle cx="636.7" cy="445.6" r="2.8"/><circle cx="636.7" cy="454.1" r="2.8"/><circle cx="636.7" cy="462.5" r="2.8"/><circle cx="636.7" cy="471.0" r="2.8"/></g><path d="M610.8 468.2 L613.2 470.6" stroke="#d03030" stroke-width="1.1"/></g>
<text x="609.3" y="440.4" font-size="2.6" fill="#333" font-family="Liberation Sans">0 ps</text>
<g clip-path="url(#lc11)"><rect x="645.4" y="441.4" width="32.5" height="33.80000000000001" fill="#fff" stroke="#9aaacc" stroke-width=".4"/><g stroke="#6a86c0" stroke-width=".45" opacity=".8"><path d="M621.0 441.4 L654.8 475.2"/><path d="M629.1 441.4 L663.0 475.2"/><path d="M637.3 441.4 L671.1 475.2"/><path d="M645.4 441.4 L679.2 475.2"/><path d="M653.5 441.4 L687.3 475.2"/><path d="M661.6 441.4 L695.5 475.2"/><path d="M669.8 441.4 L703.6 475.2"/><path d="M677.9 441.4 L711.7 475.2"/></g><g stroke="#8aa0d0" stroke-width=".35" opacity=".7"><path d="M645.4 441.4 L611.6 475.2"/><path d="M653.5 441.4 L619.7 475.2"/><path d="M661.6 441.4 L627.8 475.2"/><path d="M669.8 441.4 L636.0 475.2"/><path d="M677.9 441.4 L644.1 475.2"/><path d="M686.0 441.4 L652.2 475.2"/><path d="M694.1 441.4 L660.3 475.2"/><path d="M702.3 441.4 L668.5 475.2"/></g><g fill="none" stroke="#9ab0d8" stroke-width=".35"><circle cx="649.5" cy="445.6" r="2.8"/><circle cx="649.5" cy="454.1" r="2.8"/><circle cx="649.5" cy="462.5" r="2.8"/><circle cx="649.5" cy="471.0" r="2.8"/><circle cx="657.6" cy="445.6" r="2.8"/><circle cx="657.6" cy="454.1" r="2.8"/><circle cx="657.6" cy="462.5" r="2.8"/><circle cx="657.6" cy="471.0" r="2.8"/><circle cx="665.7" cy="445.6" r="2.8"/><circle cx="665.7" cy="454.1" r="2.8"/><circle cx="665.7" cy="462.5" r="2.8"/><circle cx="665.7" cy="471.0" r="2.8"/><circle cx="673.8" cy="445.6" r="2.8"/><circle cx="673.8" cy="454.1" r="2.8"/><circle cx="673.8" cy="462.5" r="2.8"/><circle cx="673.8" cy="471.0" r="2.8"/></g><path d="M665.7 469.6 L668.1 472.0" stroke="#d03030" stroke-width="1.1"/></g>
<text x="646.4" y="440.4" font-size="2.6" fill="#333" font-family="Liberation Sans">5 ps</text>
<g clip-path="url(#lc12)"><rect x="682.8" y="441.4" width="32.5" height="33.80000000000001" fill="#fff" stroke="#9aaacc" stroke-width=".4"/><g stroke="#6a86c0" stroke-width=".45" opacity=".8"><path d="M658.4 441.4 L692.2 475.2"/><path d="M666.5 441.4 L700.3 475.2"/><path d="M674.7 441.4 L708.5 475.2"/><path d="M682.8 441.4 L716.6 475.2"/><path d="M690.9 441.4 L724.7 475.2"/><path d="M699.0 441.4 L732.8 475.2"/><path d="M707.2 441.4 L741.0 475.2"/><path d="M715.3 441.4 L749.1 475.2"/></g><g stroke="#8aa0d0" stroke-width=".35" opacity=".7"><path d="M682.8 441.4 L649.0 475.2"/><path d="M690.9 441.4 L657.1 475.2"/><path d="M699.0 441.4 L665.2 475.2"/><path d="M707.2 441.4 L673.4 475.2"/><path d="M715.3 441.4 L681.5 475.2"/><path d="M723.4 441.4 L689.6 475.2"/><path d="M731.5 441.4 L697.8 475.2"/><path d="M739.7 441.4 L705.9 475.2"/></g><g fill="none" stroke="#9ab0d8" stroke-width=".35"><circle cx="686.9" cy="445.6" r="2.8"/><circle cx="686.9" cy="454.1" r="2.8"/><circle cx="686.9" cy="462.5" r="2.8"/><circle cx="686.9" cy="471.0" r="2.8"/><circle cx="695.0" cy="445.6" r="2.8"/><circle cx="695.0" cy="454.1" r="2.8"/><circle cx="695.0" cy="462.5" r="2.8"/><circle cx="695.0" cy="471.0" r="2.8"/><circle cx="703.1" cy="445.6" r="2.8"/><circle cx="703.1" cy="454.1" r="2.8"/><circle cx="703.1" cy="462.5" r="2.8"/><circle cx="703.1" cy="471.0" r="2.8"/><circle cx="711.2" cy="445.6" r="2.8"/><circle cx="711.2" cy="454.1" r="2.8"/><circle cx="711.2" cy="462.5" r="2.8"/><circle cx="711.2" cy="471.0" r="2.8"/></g><path d="M685.4 460.8 L687.8 463.2" stroke="#d03030" stroke-width="1.1"/></g>
<text x="683.8" y="440.4" font-size="2.6" fill="#333" font-family="Liberation Sans">10 ps</text>
<rect x="557" y="490.9" width="47" height="35.30000000000007" fill="#fff" stroke="#888" stroke-width=".5"/>
<path d="M557.0 495.6 L558.1 495.7 L559.2 495.5 L560.3 495.9 L561.5 495.3 L562.6 495.6 L563.7 495.7 L564.8 495.8 L565.9 495.7 L567.0 495.7 L568.1 495.8 L569.3 495.8 L570.4 495.5 L571.5 495.7 L572.6 495.8" fill="none" stroke="#2a6ab8" stroke-width="1"/><path d="M588.5 497.4 L589.8 497.2 L591.1 497.4 L592.4 497.4 L593.7 497.2 L595.0 497.3 L596.2 497.1 L597.5 497.2 L598.8 497.3 L600.1 496.9 L601.4 497.3 L602.7 497.5 L604.0 497.4" fill="none" stroke="#2a6ab8" stroke-width="1"/>
<rect x="572.6" y="496" width="15.9" height="4" fill="#2a5a9a"/>
<path d="M572.6 499 L572.6 513.0" stroke="#e86a40" stroke-width=".6"/>
<path d="M573.3 499 L573.3 509.3" stroke="#e86a40" stroke-width=".6"/>
<path d="M574.0 499 L574.0 513.1" stroke="#e86a40" stroke-width=".6"/>
<path d="M574.8 499 L574.8 511.4" stroke="#e86a40" stroke-width=".6"/>
<path d="M575.5 499 L575.5 509.8" stroke="#e86a40" stroke-width=".6"/>
<path d="M576.2 499 L576.2 514.2" stroke="#e86a40" stroke-width=".6"/>
<path d="M576.9 499 L576.9 505.9" stroke="#e86a40" stroke-width=".6"/>
<path d="M577.6 499 L577.6 513.3" stroke="#e86a40" stroke-width=".6"/>
<path d="M578.4 499 L578.4 505.3" stroke="#e86a40" stroke-width=".6"/>
<path d="M579.1 499 L579.1 511.6" stroke="#e86a40" stroke-width=".6"/>
<path d="M579.8 499 L579.8 510.3" stroke="#e86a40" stroke-width=".6"/>
<path d="M580.5 499 L580.5 507.5" stroke="#e86a40" stroke-width=".6"/>
<path d="M581.2 499 L581.2 512.7" stroke="#e86a40" stroke-width=".6"/>
<path d="M582.0 499 L582.0 510.5" stroke="#e86a40" stroke-width=".6"/>
<path d="M582.7 499 L582.7 511.8" stroke="#e86a40" stroke-width=".6"/>
<path d="M583.4 499 L583.4 515.1" stroke="#e86a40" stroke-width=".6"/>
<path d="M584.1 499 L584.1 507.8" stroke="#e86a40" stroke-width=".6"/>
<path d="M584.8 499 L584.8 505.1" stroke="#e86a40" stroke-width=".6"/>
<path d="M585.6 499 L585.6 508.3" stroke="#e86a40" stroke-width=".6"/>
<path d="M586.3 499 L586.3 512.5" stroke="#e86a40" stroke-width=".6"/>
<path d="M587.0 499 L587.0 507.2" stroke="#e86a40" stroke-width=".6"/>
<path d="M587.7 499 L587.7 506.9" stroke="#e86a40" stroke-width=".6"/>
<path d="M557.0 519.5 L558.1 519.3 L559.2 519.2 L560.3 519.5 L561.5 519.1 L562.6 519.3 L563.7 519.0 L564.8 519.1 L565.9 519.4 L567.0 519.5 L568.1 519.5 L569.3 519.1 L570.4 519.3 L571.5 519.1 L572.6 518.9" fill="none" stroke="#e05a30" stroke-width="1"/><path d="M588.5 520.7 L589.8 521.0 L591.1 521.0 L592.4 520.9 L593.7 521.1 L595.0 520.5 L596.2 520.4 L597.5 520.7 L598.8 520.5 L600.1 520.5 L601.4 520.6 L602.7 520.8 L604.0 520.7" fill="none" stroke="#e05a30" stroke-width="1"/>
<text x="574" y="495.9" font-size="2.8" fill="#333" font-family="Liberation Sans">Y4H4O</text>
<g font-size="2.6" fill="#555" font-family="Liberation Sans"><text x="551.5" y="492.9">5.5</text><text x="551.5" y="500.9">4.5</text><text x="551.5" y="508.9">3.5</text><text x="551.5" y="516.9">2.5</text><text x="571" y="534.2">Time (ps)</text><text x="557" y="529.7">-5</text><text x="571" y="529.7">0</text><text x="587" y="529.7">5</text><text x="601" y="529.7">10</text></g>
<text transform="translate(548.5,512.9) rotate(-90)" font-size="2.6" fill="#555" font-family="Liberation Sans">Energy (eV)</text>
<g clip-path="url(#lc20)"><rect x="608.3" y="491.9" width="32.5" height="34.30000000000007" fill="#fff" stroke="#9aaacc" stroke-width=".4"/><g stroke="#6a86c0" stroke-width=".45" opacity=".8"><path d="M583.9 491.9 L618.2 526.2"/><path d="M592.0 491.9 L626.4 526.2"/><path d="M600.2 491.9 L634.5 526.2"/><path d="M608.3 491.9 L642.6 526.2"/><path d="M616.4 491.9 L650.7 526.2"/><path d="M624.5 491.9 L658.9 526.2"/><path d="M632.7 491.9 L667.0 526.2"/><path d="M640.8 491.9 L675.1 526.2"/></g><g stroke="#8aa0d0" stroke-width=".35" opacity=".7"><path d="M608.3 491.9 L574.0 526.2"/><path d="M616.4 491.9 L582.1 526.2"/><path d="M624.5 491.9 L590.2 526.2"/><path d="M632.7 491.9 L598.4 526.2"/><path d="M640.8 491.9 L606.5 526.2"/><path d="M648.9 491.9 L614.6 526.2"/><path d="M657.0 491.9 L622.7 526.2"/><path d="M665.2 491.9 L630.9 526.2"/></g><g fill="none" stroke="#9ab0d8" stroke-width=".35"><circle cx="612.4" cy="496.2" r="2.8"/><circle cx="612.4" cy="504.8" r="2.8"/><circle cx="612.4" cy="513.3" r="2.8"/><circle cx="612.4" cy="521.9" r="2.8"/><circle cx="620.5" cy="496.2" r="2.8"/><circle cx="620.5" cy="504.8" r="2.8"/><circle cx="620.5" cy="513.3" r="2.8"/><circle cx="620.5" cy="521.9" r="2.8"/><circle cx="628.6" cy="496.2" r="2.8"/><circle cx="628.6" cy="504.8" r="2.8"/><circle cx="628.6" cy="513.3" r="2.8"/><circle cx="628.6" cy="521.9" r="2.8"/><circle cx="636.7" cy="496.2" r="2.8"/><circle cx="636.7" cy="504.8" r="2.8"/><circle cx="636.7" cy="513.3" r="2.8"/><circle cx="636.7" cy="521.9" r="2.8"/></g><path d="M618.5 517.2 L620.9 519.6" stroke="#d03030" stroke-width="1.1"/><path d="M635.9 506.5 L638.3 508.9" stroke="#d03030" stroke-width="1.1"/><path d="M612.3 495.0 L614.7 497.4" stroke="#d03030" stroke-width="1.1"/><path d="M633.0 495.3 L635.4 497.7" stroke="#d03030" stroke-width="1.1"/></g>
<text x="609.3" y="490.9" font-size="2.6" fill="#333" font-family="Liberation Sans">0 ps</text>
<g clip-path="url(#lc21)"><rect x="645.4" y="491.9" width="32.5" height="34.30000000000007" fill="#fff" stroke="#9aaacc" stroke-width=".4"/><g stroke="#6a86c0" stroke-width=".45" opacity=".8"><path d="M621.0 491.9 L655.3 526.2"/><path d="M629.1 491.9 L663.5 526.2"/><path d="M637.3 491.9 L671.6 526.2"/><path d="M645.4 491.9 L679.7 526.2"/><path d="M653.5 491.9 L687.8 526.2"/><path d="M661.6 491.9 L696.0 526.2"/><path d="M669.8 491.9 L704.1 526.2"/><path d="M677.9 491.9 L712.2 526.2"/></g><g stroke="#8aa0d0" stroke-width=".35" opacity=".7"><path d="M645.4 491.9 L611.1 526.2"/><path d="M653.5 491.9 L619.2 526.2"/><path d="M661.6 491.9 L627.3 526.2"/><path d="M669.8 491.9 L635.5 526.2"/><path d="M677.9 491.9 L643.6 526.2"/><path d="M686.0 491.9 L651.7 526.2"/><path d="M694.1 491.9 L659.8 526.2"/><path d="M702.3 491.9 L668.0 526.2"/></g><g fill="none" stroke="#9ab0d8" stroke-width=".35"><circle cx="649.5" cy="496.2" r="2.8"/><circle cx="649.5" cy="504.8" r="2.8"/><circle cx="649.5" cy="513.3" r="2.8"/><circle cx="649.5" cy="521.9" r="2.8"/><circle cx="657.6" cy="496.2" r="2.8"/><circle cx="657.6" cy="504.8" r="2.8"/><circle cx="657.6" cy="513.3" r="2.8"/><circle cx="657.6" cy="521.9" r="2.8"/><circle cx="665.7" cy="496.2" r="2.8"/><circle cx="665.7" cy="504.8" r="2.8"/><circle cx="665.7" cy="513.3" r="2.8"/><circle cx="665.7" cy="521.9" r="2.8"/><circle cx="673.8" cy="496.2" r="2.8"/><circle cx="673.8" cy="504.8" r="2.8"/><circle cx="673.8" cy="513.3" r="2.8"/><circle cx="673.8" cy="521.9" r="2.8"/></g><path d="M665.9 509.8 L668.3 512.2" stroke="#d03030" stroke-width="1.1"/><path d="M655.5 515.8 L657.9 518.2" stroke="#d03030" stroke-width="1.1"/><path d="M647.9 497.9 L650.3 500.3" stroke="#d03030" stroke-width="1.1"/><path d="M659.3 494.8 L661.7 497.2" stroke="#d03030" stroke-width="1.1"/></g>
<text x="646.4" y="490.9" font-size="2.6" fill="#333" font-family="Liberation Sans">5 ps</text>
<g clip-path="url(#lc22)"><rect x="682.8" y="491.9" width="32.5" height="34.30000000000007" fill="#fff" stroke="#9aaacc" stroke-width=".4"/><g stroke="#6a86c0" stroke-width=".45" opacity=".8"><path d="M658.4 491.9 L692.7 526.2"/><path d="M666.5 491.9 L700.9 526.2"/><path d="M674.7 491.9 L709.0 526.2"/><path d="M682.8 491.9 L717.1 526.2"/><path d="M690.9 491.9 L725.2 526.2"/><path d="M699.0 491.9 L733.4 526.2"/><path d="M707.2 491.9 L741.5 526.2"/><path d="M715.3 491.9 L749.6 526.2"/></g><g stroke="#8aa0d0" stroke-width=".35" opacity=".7"><path d="M682.8 491.9 L648.5 526.2"/><path d="M690.9 491.9 L656.6 526.2"/><path d="M699.0 491.9 L664.7 526.2"/><path d="M707.2 491.9 L672.9 526.2"/><path d="M715.3 491.9 L681.0 526.2"/><path d="M723.4 491.9 L689.1 526.2"/><path d="M731.5 491.9 L697.2 526.2"/><path d="M739.7 491.9 L705.4 526.2"/></g><g fill="none" stroke="#9ab0d8" stroke-width=".35"><circle cx="686.9" cy="496.2" r="2.8"/><circle cx="686.9" cy="504.8" r="2.8"/><circle cx="686.9" cy="513.3" r="2.8"/><circle cx="686.9" cy="521.9" r="2.8"/><circle cx="695.0" cy="496.2" r="2.8"/><circle cx="695.0" cy="504.8" r="2.8"/><circle cx="695.0" cy="513.3" r="2.8"/><circle cx="695.0" cy="521.9" r="2.8"/><circle cx="703.1" cy="496.2" r="2.8"/><circle cx="703.1" cy="504.8" r="2.8"/><circle cx="703.1" cy="513.3" r="2.8"/><circle cx="703.1" cy="521.9" r="2.8"/><circle cx="711.2" cy="496.2" r="2.8"/><circle cx="711.2" cy="504.8" r="2.8"/><circle cx="711.2" cy="513.3" r="2.8"/><circle cx="711.2" cy="521.9" r="2.8"/></g><path d="M706.4 500.6 L708.8 503.0" stroke="#d03030" stroke-width="1.1"/><path d="M688.5 495.4 L690.9 497.8" stroke="#d03030" stroke-width="1.1"/><path d="M701.2 506.4 L703.6 508.8" stroke="#d03030" stroke-width="1.1"/><path d="M701.2 512.1 L703.6 514.5" stroke="#d03030" stroke-width="1.1"/></g>
<text x="683.8" y="490.9" font-size="2.6" fill="#333" font-family="Liberation Sans">10 ps</text>
</svg>
<div class="a cap" style="left:539px;top:543.5px;font-size:9px;letter-spacing:-0.7px">YOH光致变色机理理论研究</div><!-- col3 diagram -->
<svg class="a" style="left:775px;top:230px" width="240" height="160" viewBox="775 230 240 160">
<defs>
<pattern id="mol1" width="9.4" height="6.5" patternUnits="userSpaceOnUse"><circle cx="2.4" cy="2" r="1.3" fill="#eef4f4" stroke="#3a9a90" stroke-width=".55"/><circle cx="7.1" cy="5" r="1.3" fill="#eef4f4" stroke="#3a9a90" stroke-width=".55"/><path d="M4 4.6 L5.4 4.2" stroke="#d05a7a" stroke-width=".4"/></pattern>
<pattern id="mol2" width="10.5" height="9" patternUnits="userSpaceOnUse"><circle cx="1.8" cy="2" r="1.4" fill="#e6a818"/><circle cx="4.8" cy="4.2" r="1.15" fill="#38c4e8"/><circle cx="7.6" cy="6.6" r="1.15" fill="#38c4e8"/><path d="M1.8 2 L4.8 4.2 L7.6 6.6 L10.5 8.8" stroke="#6ad0ea" stroke-width=".45"/></pattern>
<pattern id="mol3" width="10.5" height="9" patternUnits="userSpaceOnUse"><path d="M0.5 1 L3 1.6 L2.6 3.4 L0 2.8Z" fill="#e8781e"/><circle cx="4.8" cy="4.2" r="1.15" fill="#38c4e8"/><circle cx="7.6" cy="6.6" r="1.15" fill="#38c4e8"/><path d="M1.8 2 L4.8 4.2 L7.6 6.6 L10.5 8.8" stroke="#6ad0ea" stroke-width=".45"/></pattern>
<linearGradient id="arrIll" x1="0" x2="1"><stop offset="0" stop-color="#a8d0f0"/><stop offset="1" stop-color="#d0702a"/></linearGradient>
<linearGradient id="arrDark" x1="0" x2="1"><stop offset="0" stop-color="#6aa0e0"/><stop offset="1" stop-color="#7a3a2a"/></linearGradient>
<linearGradient id="arrCool" x1="0" y1="0" x2="0" y2="1"><stop offset="0" stop-color="#e8f2fa"/><stop offset="1" stop-color="#8ac0e8"/></linearGradient>
<linearGradient id="arrHeat" x1="0" y1="0" x2="0" y2="1"><stop offset="0" stop-color="#d08a40"/><stop offset="1" stop-color="#6a3a10"/></linearGradient>
</defs>
<path d="M783.4 245.7 L860.8000000000001 245.7 L862.2 253 L782 253Z" fill="#f6d8c8"/><path d="M786 253 L858.2 253 L860.2 259 L784 259Z" fill="#8a7a72"/><rect x="786" y="259" width="72.2" height="36" fill="#d2d2d4"/><rect x="787" y="261" width="70.2" height="14" fill="url(#mol1)"/><rect x="787" y="276" width="70.2" height="18" fill="url(#mol2)"/><path d="M783 294 L861.2 294 L862.2 298 L782 298Z" fill="#f6d8c8"/>
<path d="M783.4 324.0 L860.8000000000001 324.0 L862.2 331.3 L782 331.3Z" fill="#f6d8c8"/><path d="M786 331.3 L858.2 331.3 L860.2 337.3 L784 337.3Z" fill="#8a7a72"/><rect x="786" y="337.3" width="72.2" height="36" fill="#d2d2d4"/><rect x="787" y="339.3" width="70.2" height="14" fill="url(#mol1)"/><rect x="787" y="354.3" width="70.2" height="18" fill="url(#mol3)"/><path d="M783 372.3 L861.2 372.3 L862.2 376.3 L782 376.3Z" fill="#f6d8c8"/>
<path d="M930.4 245.7 L1007.8000000000001 245.7 L1009.2 253 L929 253Z" fill="#f6d8c8"/><path d="M933 253 L1005.2 253 L1007.2 259 L931 259Z" fill="#8a7a72"/><rect x="933" y="259" width="72.2" height="36" fill="#d2d2d4"/><rect x="934" y="261" width="70.2" height="14" fill="url(#mol1)"/><rect x="934" y="276" width="70.2" height="18" fill="url(#mol2)"/><path d="M930 294 L1008.2 294 L1009.2 298 L929 298Z" fill="#f6d8c8"/>
<path d="M930.4 322.7 L1007.8000000000001 322.7 L1009.2 330 L929 330Z" fill="#f6d8c8"/><path d="M933 330 L1005.2 330 L1007.2 336 L931 336Z" fill="#8a7a72"/><rect x="933" y="336" width="72.2" height="36" fill="#d2d2d4"/><rect x="934" y="338" width="70.2" height="14" fill="url(#mol1)"/><rect x="934" y="353" width="70.2" height="18" fill="url(#mol3)"/><path d="M930 371 L1008.2 371 L1009.2 375 L929 375Z" fill="#f6d8c8"/>


<circle cx="939" cy="245.5" r="4.3" fill="#f07a20"/>
<path d="M939 245.5 L946.0 245.5" stroke="#f07a20" stroke-width=".9"/><path d="M939 245.5 L944.0 250.4" stroke="#f07a20" stroke-width=".9"/><path d="M939 245.5 L939.0 252.5" stroke="#f07a20" stroke-width=".9"/><path d="M939 245.5 L934.1 250.5" stroke="#f07a20" stroke-width=".9"/><path d="M939 245.5 L932.0 245.5" stroke="#f07a20" stroke-width=".9"/><path d="M939 245.5 L934.0 240.6" stroke="#f07a20" stroke-width=".9"/><path d="M939 245.5 L939.0 238.5" stroke="#f07a20" stroke-width=".9"/><path d="M939 245.5 L943.9 240.5" stroke="#f07a20" stroke-width=".9"/>
<circle cx="939" cy="313.3" r="4.3" fill="#f07a20"/>
<path d="M939 313.3 L946.0 313.3" stroke="#f07a20" stroke-width=".9"/><path d="M939 313.3 L944.0 318.2" stroke="#f07a20" stroke-width=".9"/><path d="M939 313.3 L939.0 320.3" stroke="#f07a20" stroke-width=".9"/><path d="M939 313.3 L934.1 318.3" stroke="#f07a20" stroke-width=".9"/><path d="M939 313.3 L932.0 313.3" stroke="#f07a20" stroke-width=".9"/><path d="M939 313.3 L934.0 308.4" stroke="#f07a20" stroke-width=".9"/><path d="M939 313.3 L939.0 306.3" stroke="#f07a20" stroke-width=".9"/><path d="M939 313.3 L943.9 308.3" stroke="#f07a20" stroke-width=".9"/>
<path d="M803.925 240.8 L808.675 240.8 L808.675 246.3 L811.05 246.3 L806.3 251.8 L801.55 246.3 L803.925 246.3Z" fill="#8ac878"/>
<path d="M803.925 318.8 L808.675 318.8 L808.675 324.3 L811.05 324.3 L806.3 329.8 L801.55 324.3 L803.925 324.3Z" fill="#8ac878"/>
<path d="M950.925 240.8 L955.675 240.8 L955.675 246.3 L958.05 246.3 L953.3 251.8 L948.55 246.3 L950.925 246.3Z" fill="#8ac878"/>
<path d="M950.925 318.8 L955.675 318.8 L955.675 324.3 L958.05 324.3 L953.3 329.8 L948.55 324.3 L950.925 324.3Z" fill="#8ac878"/>
<path d="M840.4 240.8 L846.4 240.8 L846.4 246.3 L849.4 246.3 L843.4 251.8 L837.4 246.3 L840.4 246.3Z" fill="#e81010"/>
<path d="M840.4 318.8 L846.4 318.8 L846.4 324.3 L849.4 324.3 L843.4 329.8 L837.4 324.3 L840.4 324.3Z" fill="#e81010"/>
<path d="M987.4 240.8 L993.4 240.8 L993.4 246.3 L996.4 246.3 L990.4 251.8 L984.4 246.3 L987.4 246.3Z" fill="#e81010"/>
<path d="M987.4 318.8 L993.4 318.8 L993.4 324.3 L996.4 324.3 L990.4 329.8 L984.4 324.3 L987.4 324.3Z" fill="#e81010"/>
<path d="M804.05 295.5 L808.55 295.5 L808.55 301.0 L810.8 301.0 L806.3 306.5 L801.8 301.0 L804.05 301.0Z" fill="#8ac878"/>
<path d="M840.65 295.5 L846.15 295.5 L846.15 301.0 L848.9 301.0 L843.4 306.5 L837.9 301.0 L840.65 301.0Z" fill="#e81010"/>
<path d="M804.05 373.5 L808.55 373.5 L808.55 379.0 L810.8 379.0 L806.3 384.5 L801.8 379.0 L804.05 379.0Z" fill="#8ac878"/>
<rect x="843" y="374" width=".9" height="9" fill="#e81010"/><path d="M841.5 381 L845.5 381 L843.5 384Z" fill="#e81010"/>
<rect x="952.8" y="295.5" width="1.2" height="11" fill="#8ac878"/><rect x="952.8" y="373.5" width="1.2" height="10" fill="#8ac878"/>
<path d="M988.15 295.5 L992.65 295.5 L992.65 301.0 L994.9 301.0 L990.4 306.5 L985.9 301.0 L988.15 301.0Z" fill="#e81010"/>
<rect x="990" y="374" width=".9" height="9" fill="#e81010"/><path d="M988.5 381 L992.5 381 L990.5 384Z" fill="#e81010"/>
<g font-size="3" font-weight="bold" font-family="Liberation Sans"><text x="802" y="310" fill="#7ac070">VIS</text><text x="840" y="310" fill="#e01010">NIR</text><text x="956" y="309" fill="#7ac070">VIS</text><text x="986" y="309" fill="#e01010">NIR</text></g>
<rect x="822" y="298" width="2.5" height="16" fill="url(#arrCool)"/>
<rect x="969" y="297" width="2.5" height="14" fill="url(#arrHeat)"/><path d="M967.5 311 L973 311 L970.2 314Z" fill="#6a3a10"/>
<text transform="translate(818,299) rotate(90)" font-size="3" font-weight="bold" fill="#333" font-family="Liberation Sans">Cooling</text>
<text transform="translate(976,297) rotate(90)" font-size="3" font-weight="bold" fill="#333" font-family="Liberation Sans">Heating</text>
<rect x="851" y="241" width="1" height="8" fill="#aac8e0"/>
<rect x="998" y="241" width="1" height="8" fill="#aac8e0"/>
<rect x="851" y="319" width="1" height="8" fill="#c02020"/>
<rect x="998" y="319" width="1" height="8" fill="#c02020"/>
<rect x="858" y="254" width="33" height="16" fill="#b9b8b2"/><rect x="867" y="255" width="11" height="14" fill="#4a3a18"/><text x="859" y="265" font-size="8.2" font-family="Liberation Serif" fill="#111">SICCAS</text>
<rect x="898" y="253" width="33" height="16" fill="#b9b8b2"/><rect x="907" y="254" width="11" height="14" fill="#1a1008"/><text x="899" y="264" font-size="8.2" font-family="Liberation Serif" fill="#111">SICCAS</text>
<rect x="858" y="355.4" width="33" height="16" fill="#b9b8b2"/><rect x="867" y="356.4" width="11" height="14" fill="#4a3a18"/><text x="859" y="366.4" font-size="8.2" font-family="Liberation Serif" fill="#111">SICCAS</text>
<rect x="898" y="355.4" width="33" height="16" fill="#b9b8b2"/><rect x="907" y="356.4" width="11" height="14" fill="#1a1008"/><text x="899" y="366.4" font-size="8.2" font-family="Liberation Serif" fill="#111">SICCAS</text>
<rect x="869" y="272" width="34" height="1.8" fill="url(#arrIll)"/><path d="M903 270.5 L907 272.9 L903 275.3Z" fill="#d0702a"/>
<text x="871" y="281.5" font-size="4.4" font-weight="bold" fill="#333" font-family="Liberation Sans">Illuminating</text>
<rect x="867" y="352" width="34" height="1.8" fill="url(#arrDark)"/><path d="M867 350.5 L863 352.9 L867 355.3Z" fill="#6aa0e0"/>
<text x="873" y="349.5" font-size="4.4" font-weight="bold" fill="#333" font-family="Liberation Sans">Darkening</text>
<mask id="mm0"><rect x="781.5" y="236.5" width="16" height="16" fill="#fff"/><circle cx="792.7" cy="243.3" r="4.6" fill="#000"/></mask><circle cx="789.5" cy="244.5" r="5" fill="#3a78d0" mask="url(#mm0)"/><mask id="mm1"><rect x="781.5" y="314.7" width="16" height="16" fill="#fff"/><circle cx="792.7" cy="321.5" r="4.6" fill="#000"/></mask><circle cx="789.5" cy="322.7" r="5" fill="#3a78d0" mask="url(#mm1)"/></svg><!-- spectrum chart -->
<svg class="a" style="left:1019px;top:243px" width="84" height="61" viewBox="1019 243 84 61">
<defs><linearGradient id="rainbow" x1="0" x2="1"><stop offset="0" stop-color="#5010a0"/><stop offset=".15" stop-color="#2030e0"/><stop offset=".35" stop-color="#20c0e0"/><stop offset=".5" stop-color="#30d030"/><stop offset=".65" stop-color="#f0f020"/><stop offset=".8" stop-color="#f08010"/><stop offset="1" stop-color="#e01010"/></linearGradient></defs>
<rect x="1019" y="243" width="84" height="61" fill="#fdfdfd"/>
<rect x="1029" y="250.8" width="68" height="45.2" fill="none" stroke="#777" stroke-width=".5"/>
<path d="M1030 296 L1032 285 L1034 262 L1036 256.5 L1039 260 L1042 262 L1044 266 L1044 296Z" fill="url(#rainbow)"/>
<path d="M1044 296 L1044 266 L1047 272 L1049 270 L1050 296 Z M1050 296 L1051 276 L1053 278 L1054 296Z M1055 296 L1056 281 L1058 283 L1059 296Z M1061 296 L1062 288 L1065 289 L1066 296Z M1070 296 L1073 292 L1078 293 L1079 296Z M1085 296 L1088 295 L1092 295.5 L1093 296Z" fill="#e07a20"/>
<path d="M1030 296 C1040 285 1042 280 1048 277 C1055 272 1058 262 1065 255 C1072 250 1080 252 1097 258" fill="none" stroke="#444" stroke-width=".5"/>
<path d="M1044 287 C1060 284 1080 280 1097 279" fill="none" stroke="#7070e0" stroke-width=".5"/>
<path d="M1044 288 C1060 286 1080 284 1097 283" fill="none" stroke="#d080d0" stroke-width=".5"/>
<path d="M1044 291 C1060 290 1080 287 1097 285" fill="none" stroke="#60c060" stroke-width=".5"/>
<g stroke-width=".6"><path d="M1036 246 L1042 246" stroke="#444"/><path d="M1060 246 L1066 246" stroke="#5050e0"/><path d="M1036 249 L1042 249" stroke="#d080d0"/><path d="M1060 249 L1066 249" stroke="#60c060"/></g>
<text x="1050" y="302" font-size="2.6" fill="#444" font-family="Liberation Sans">Wavelength(nm)</text>
<text transform="translate(1024,280) rotate(-90)" font-size="2.6" fill="#444" font-family="Liberation Sans">Transmittance(%)</text>
</svg>
<!-- bar chart -->
<svg class="a" style="left:1019px;top:309.7px" width="84" height="70" viewBox="1019 309.7 84 70">
<rect x="1019" y="309.7" width="84" height="70" fill="#fdfdfd"/>
<rect x="1029" y="313" width="69" height="57.7" fill="none" stroke="#555" stroke-width=".5"/>
<g fill="#e8c060" stroke="#333" stroke-width=".3"><rect x="1039.4" y="331" width="5.6" height="39.7"/><rect x="1053.4" y="335" width="5.9" height="35.7"/><rect x="1067.7" y="355.6" width="5.6" height="15.1"/><rect x="1082" y="355.4" width="5.6" height="15.3"/></g>
<g fill="#3c3c3c"><rect x="1045" y="321.7" width="6.2" height="49"/><rect x="1059.3" y="338.6" width="5.7" height="32.1"/><rect x="1073.3" y="352" width="5.9" height="18.7"/><rect x="1087.6" y="355.4" width="5.7" height="15.3"/></g>
<rect x="1087" y="315" width="6.7" height="3.5" fill="#e8c060" stroke="#333" stroke-width=".3"/><rect x="1087" y="319.5" width="6.7" height="3.5" fill="#3c3c3c"/>
<g font-size="2.6" fill="#444" font-family="Liberation Sans"><text transform="translate(1036,321) rotate(-25)">Pristine</text><text transform="translate(1051,329) rotate(-25)">Heating</text><text transform="translate(1066,347) rotate(-25)">Illumination</text><text x="1055" y="377">Samples</text></g>
<text transform="translate(1024,360) rotate(-90)" font-size="2.4" fill="#444" font-family="Liberation Sans">Luminous Transmittance(%)</text>
</svg>
<div class="a cap" style="left:912px;top:392.5px">自适应宽光谱节能薄膜</div>

<!-- lab photo -->
<svg class="a" style="left:781.4px;top:427.6px" width="68" height="55.6" viewBox="0 0 68 55.6">
<defs><linearGradient id="labg" x1="0" y1="0" x2="1" y2="1"><stop offset="0" stop-color="#2a2a2a"/><stop offset=".5" stop-color="#5a5a5a"/><stop offset="1" stop-color="#222"/></linearGradient></defs>
<rect width="68" height="55.6" fill="#fdfdfd"/>
<rect x="1.8" y="15.1" width="64.2" height="35.7" fill="url(#labg)"/>
<path d="M10 22 L24 18 L30 28 L16 33Z" fill="#b03030"/><path d="M13 23 L23 20 L27 27 L17 30Z" fill="#c8d0d8"/>
<rect x="23" y="33" width="9" height="17" fill="#555"/>
<rect x="40" y="20" width="20" height="10" fill="#4a4a4a"/><rect x="42" y="21" width="14" height="6" fill="#8a8a90"/>
<path d="M2 45 L20 38 L40 42 L66 36 L66 50.8 L2 50.8Z" fill="#9a9a9a" opacity=".6"/>
<path d="M3 7 L30 7" stroke="#e02020" stroke-width="1"/><path d="M30 7 L55 5 L55 9Z" fill="#f0a0a0"/>
<rect x="14" y="4" width="2" height="6" fill="#223"/><rect x="18" y="4" width="2" height="6" fill="#557"/><path d="M58 4 L62 7 L58 10Z" fill="#111"/>
<g stroke="#e02020" stroke-width=".4"><path d="M37 13 L30 36"/><path d="M51 13 L46 30"/><path d="M28 52 L32 40"/></g>
</svg>
<!-- energy chart ultrafast -->
<svg class="a" style="left:857px;top:427px" width="75.5" height="57" viewBox="857 427 75.5 57">
<rect x="857" y="427" width="75.5" height="57" fill="#fdfdfd"/>
<rect x="866" y="429" width="63.9" height="47.4" fill="none" stroke="#777" stroke-width=".5"/>
<path d="M882.5 429 L882.5 476.4" stroke="#333" stroke-width=".4" stroke-dasharray="1 .8"/>
<path d="M866 441 L882.5 441 L883 439.5 L890 440 L929.9 440.6" stroke="#2a6ab8" stroke-width="1.3" fill="none"/>
<path d="M866 468.8 L882.5 468.8" stroke="#e05a30" stroke-width="1.5"/>
<path d="M882.5 440.5 L890 441 L895 443 L929.9 443.4" stroke="#e05a30" stroke-width="1.1" fill="none"/>
<rect x="896" y="446.8" width="32.5" height="22.7" fill="#fff" stroke="#888" stroke-width=".4"/>
<path d="M896 452 L928.5 452" stroke="#7ab0e0" stroke-width=".4"/>
<path d="M896 466 L912 466 L915 463 L918 452 L928.5 451" stroke="#e08060" stroke-width=".5" fill="none"/>
<path d="M912 446.8 L912 469.5" stroke="#555" stroke-width=".3" stroke-dasharray=".8 .6"/>
<g font-size="2.6" fill="#444" font-family="Liberation Sans"><text x="890" y="482.5">Time (ps)</text><text x="905" y="473.5">Time (fs)</text><text x="872" y="434">Y4H4O</text></g>
<text transform="translate(861,462) rotate(-90)" font-size="2.4" fill="#444" font-family="Liberation Sans">Energy (eV)</text>
</svg>
<!-- absorption asymmetry -->
<svg class="a" style="left:938.8px;top:425.5px" width="164.6" height="60.2" viewBox="938.8 425.5 164.6 60.2">
<rect x="938.8" y="425.5" width="164.6" height="60.2" fill="#fdfdfd"/>
<text x="953" y="432.3" font-size="4.2" fill="#222" font-family="Liberation Sans">Absorption asymmetry</text>
<text x="959" y="439" font-size="4" fill="#222" font-family="Liberation Sans">A<tspan font-size="2.4">backward</tspan> ≠ A<tspan font-size="2.4">forward</tspan></text>
<path d="M965.8 445 L975 451 L975 478 L965.8 472Z" fill="#f2ce78"/>
<path d="M975 451 L977 452 L977 479 L975 478Z" fill="#5a2a8a"/>
<path d="M968 444.3 L977 444.3 L984.6 450 L984.6 478 L977 479 L977 452Z" fill="#60c0e8"/>
<circle cx="976" cy="461" r="1.8" fill="#f0c020" stroke="#e03020" stroke-width=".8"/>
<path d="M950 473 Q952 471 953 473 T956 473 T959 473 T962 473 L966 472" fill="none" stroke="#222" stroke-width=".8"/>
<path d="M988 462 Q990 460 991 462 T994 462 T997 462 T1000 461" fill="none" stroke="#222" stroke-width=".8"/>
<path d="M989 469 Q991 467 992 469 T995 469 T998 469 L1005 468" fill="none" stroke="#222" stroke-width=".8"/>
<path d="M948 467 L965 464" stroke="#bbb" stroke-width=".5" stroke-dasharray="1 .5"/>
<g stroke="#e8a060" stroke-width=".6" stroke-dasharray="1 .8" fill="none"><rect x="1023" y="431.5" width="77.4" height="51.9"/><path d="M986 452 L1023 431.5"/><path d="M986 472 L1023 483.4"/></g>
<rect x="1035" y="433" width="59.4" height="19.6" fill="none" stroke="#666" stroke-width=".4"/>
<rect x="1035" y="452.6" width="59.4" height="20.3" fill="none" stroke="#666" stroke-width=".4"/>
<path d="M1035 443 C1040 442 1043 440 1046 441 C1050 438 1052 437 1058 437 L1094.4 437" fill="none" stroke="#4a50e0" stroke-width=".7"/>
<path d="M1035 443 C1040 442 1043 440 1046 441 C1050 440 1055 445 1062 446 C1070 447 1080 445 1094.4 444" fill="none" stroke="#e06060" stroke-width=".7"/>
<path d="M1035 467 C1042 467 1045 465 1048 466 C1055 468 1065 468 1094.4 471" fill="none" stroke="#4a50e0" stroke-width=".7"/>
<path d="M1035 467 C1042 467 1045 466 1050 469 C1060 467 1075 460 1094.4 454" fill="none" stroke="#e06060" stroke-width=".7"/>
<g font-size="2.6" fill="#333" font-family="Liberation Sans"><text x="1055" y="478">Wavelength (nm)</text><text x="1038" y="476.5">4000</text><text x="1078" y="476.5">20000</text></g>
</svg>
<div class="a cap" style="left:925px;top:499.5px">超快光学二极管</div>
<!-- logo -->
<svg class="a" style="left:484px;top:600px" width="46" height="46" viewBox="484 600 46 46">
<defs>
<linearGradient id="lgo" x1="0" y1="0" x2="1" y2="0"><stop offset="0" stop-color="#f2a812"/><stop offset="1" stop-color="#ee6410"/></linearGradient>
<linearGradient id="lgb" x1="0" y1="1" x2="1" y2="0"><stop offset="0" stop-color="#3a9ae6"/><stop offset="1" stop-color="#2a3a9e"/></linearGradient>
</defs>
<path d="M490.9 626.7 L512.5 624 L525.6 629.8 L500.7 642.3Z" fill="url(#lgo)"/>
<path d="M494.4 614.6 L513.1 613.2 L525.6 625 L506.9 632.6Z" fill="url(#lgb)"/>
<g fill="#3a78cc"><path d="M488.2 607 L491.5 606.6 L492.8 608.8 L489.5 609.3Z"/><path d="M494.4 608.3 L499 607.8 L500.6 610.8 L496 611.3Z" fill="#3a80d0"/><path d="M501 604.8 L506.5 604.2 L508.6 607.4 L503 608Z" fill="#2e4aa8"/><path d="M505.5 609.2 L509 608.8 L510.2 611.6 L506.7 612Z" fill="#2e4aa8"/><path d="M501.7 611.8 L504.8 611.5 L505.9 613.8 L502.8 614.1Z" fill="#3468b8"/></g>
<g fill="#fff"><rect x="501.3" y="618" width="2.8" height="1.8"/><rect x="507.6" y="618.4" width="2.8" height="1.8"/><rect x="514.5" y="618" width="2.8" height="1.8"/><path d="M496 614.5 L500 614.2 L501 616 L497 616.3Z"/><path d="M505 613.8 L509 613.5 L510 615.3 L506 615.6Z"/></g>
</svg>
<div class="a" style="left:531px;top:607px;font-size:18.5px;color:#3c3c3c;letter-spacing:2.6px;-webkit-text-stroke:0.7px #3c3c3c;transform:scaleX(1.13);transform-origin:0 0;white-space:nowrap">京芯新材料</div>
<div class="a" style="left:532px;top:630.5px;font-size:5.6px;color:#6a6a6a;letter-spacing:2.1px;white-space:nowrap">JINGXIN NANO MATERIALS</div>


</body></html>
